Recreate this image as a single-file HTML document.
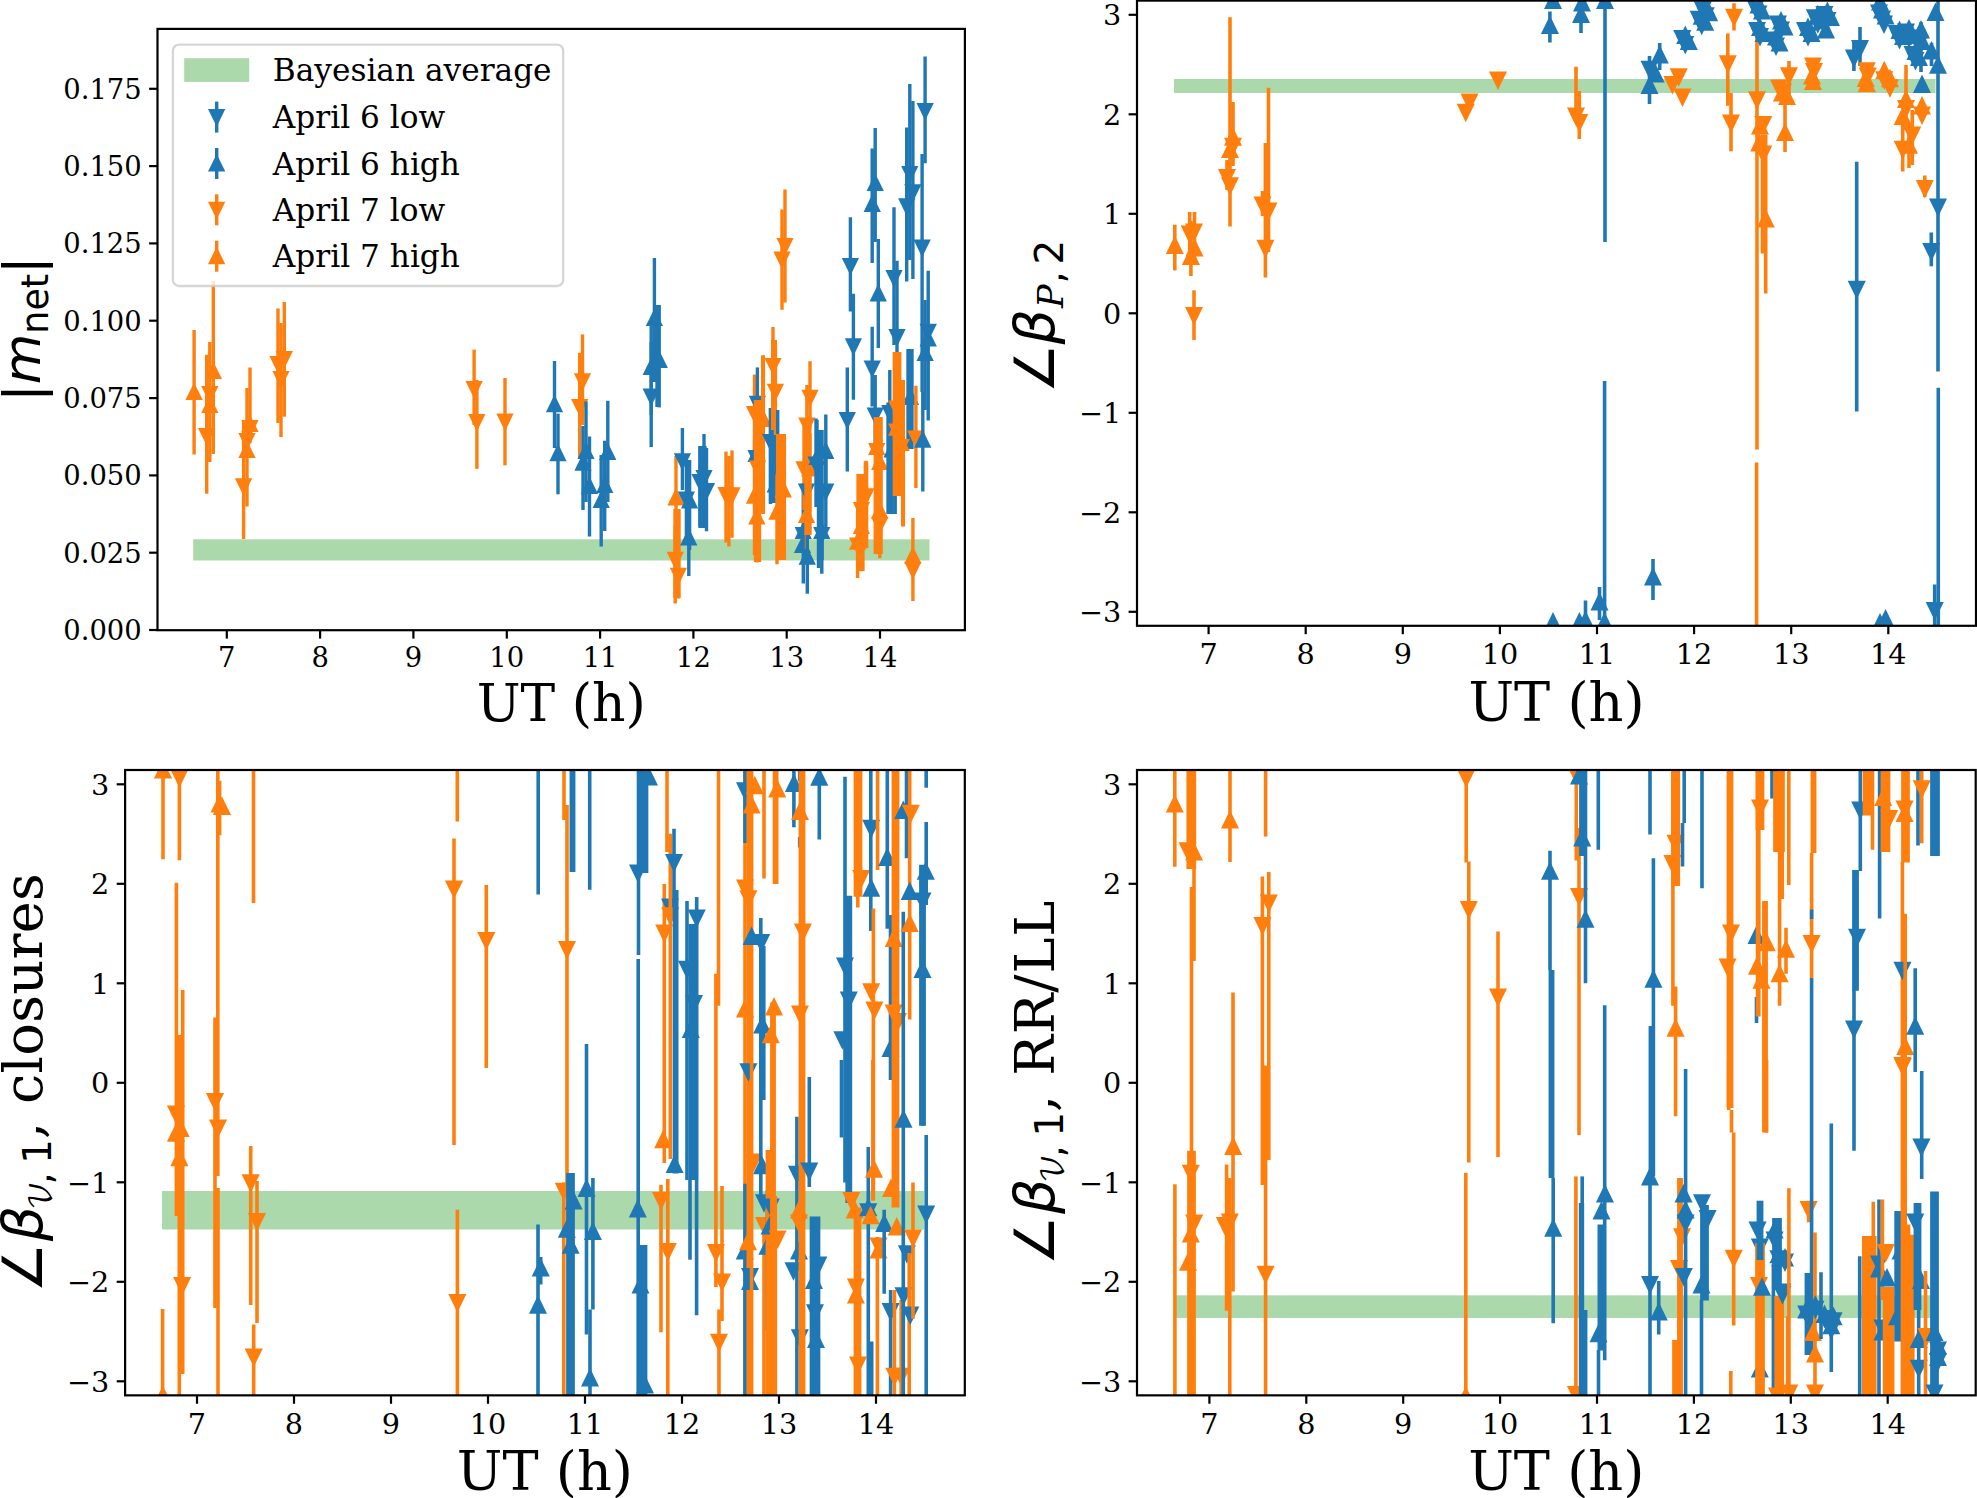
<!DOCTYPE html>
<html><head><meta charset="utf-8"><title>figure</title><style>html,body{margin:0;padding:0;background:#fff}svg{display:block}</style></head><body>
<svg width="1977" height="1498" viewBox="0 0 1977 1498">
<rect width="1977" height="1498" fill="#fff"/>
<clipPath id="c1"><rect x="157.5" y="28.9" width="807.4" height="601.3000000000001"/></clipPath>
<g clip-path="url(#c1)">
<rect x="193.2" y="539.3" width="736.3" height="21.200000000000045" fill="#abd9ab"/>
<line x1="194.1" y1="330.0" x2="194.1" y2="454.5" stroke="#ff7f0e" stroke-width="3.4"/>
<polygon points="194.1,382.4 185.4,400.1 202.8,400.1" fill="#ff7f0e"/>
<line x1="206.7" y1="354.8" x2="206.7" y2="493.8" stroke="#ff7f0e" stroke-width="3.4"/>
<polygon points="206.7,445.6 198.0,427.9 215.3,427.9" fill="#ff7f0e"/>
<line x1="209.8" y1="342.0" x2="209.8" y2="462.0" stroke="#ff7f0e" stroke-width="3.4"/>
<polygon points="209.8,403.6 201.2,385.9 218.5,385.9" fill="#ff7f0e"/>
<polygon points="209.8,395.4 201.2,413.1 218.5,413.1" fill="#ff7f0e"/>
<line x1="213.3" y1="281.0" x2="213.3" y2="454.0" stroke="#ff7f0e" stroke-width="3.4"/>
<polygon points="213.3,361.4 204.7,379.1 222.0,379.1" fill="#ff7f0e"/>
<line x1="243.6" y1="420.0" x2="243.6" y2="539.0" stroke="#ff7f0e" stroke-width="3.4"/>
<polygon points="243.6,496.0 234.9,478.3 252.2,478.3" fill="#ff7f0e"/>
<line x1="247.0" y1="388.0" x2="247.0" y2="506.6" stroke="#ff7f0e" stroke-width="3.4"/>
<polygon points="247.0,450.6 238.3,432.9 255.7,432.9" fill="#ff7f0e"/>
<polygon points="247.0,440.4 238.3,458.1 255.7,458.1" fill="#ff7f0e"/>
<line x1="250.0" y1="367.6" x2="250.0" y2="443.0" stroke="#ff7f0e" stroke-width="3.4"/>
<polygon points="250.0,414.4 241.3,432.1 258.6,432.1" fill="#ff7f0e"/>
<polygon points="250.0,437.6 241.3,419.9 258.6,419.9" fill="#ff7f0e"/>
<line x1="278.0" y1="308.5" x2="278.0" y2="423.0" stroke="#ff7f0e" stroke-width="3.4"/>
<polygon points="278.0,373.6 269.4,355.9 286.6,355.9" fill="#ff7f0e"/>
<line x1="281.0" y1="323.0" x2="281.0" y2="437.0" stroke="#ff7f0e" stroke-width="3.4"/>
<polygon points="281.0,388.6 272.4,370.9 289.6,370.9" fill="#ff7f0e"/>
<line x1="284.3" y1="302.0" x2="284.3" y2="416.7" stroke="#ff7f0e" stroke-width="3.4"/>
<polygon points="284.3,368.6 275.7,350.9 292.9,350.9" fill="#ff7f0e"/>
<line x1="474.1" y1="349.6" x2="474.1" y2="425.0" stroke="#ff7f0e" stroke-width="3.4"/>
<polygon points="474.1,398.6 465.5,380.9 482.8,380.9" fill="#ff7f0e"/>
<line x1="476.9" y1="380.0" x2="476.9" y2="468.8" stroke="#ff7f0e" stroke-width="3.4"/>
<polygon points="476.9,431.6 468.2,413.9 485.5,413.9" fill="#ff7f0e"/>
<line x1="505.0" y1="378.0" x2="505.0" y2="465.3" stroke="#ff7f0e" stroke-width="3.4"/>
<polygon points="505.0,431.3 496.4,413.6 513.6,413.6" fill="#ff7f0e"/>
<line x1="554.5" y1="361.0" x2="554.5" y2="448.0" stroke="#1f77b4" stroke-width="3.4"/>
<polygon points="554.5,394.6 545.9,412.3 563.1,412.3" fill="#1f77b4"/>
<line x1="558.0" y1="413.6" x2="558.0" y2="494.3" stroke="#1f77b4" stroke-width="3.4"/>
<polygon points="558.0,443.6 549.4,461.3 566.6,461.3" fill="#1f77b4"/>
<line x1="579.7" y1="353.0" x2="579.7" y2="457.6" stroke="#ff7f0e" stroke-width="3.4"/>
<polygon points="579.7,416.6 571.1,398.9 588.4,398.9" fill="#ff7f0e"/>
<line x1="582.5" y1="334.4" x2="582.5" y2="425.0" stroke="#ff7f0e" stroke-width="3.4"/>
<polygon points="582.5,390.9 573.9,373.2 591.1,373.2" fill="#ff7f0e"/>
<line x1="583.0" y1="426.0" x2="583.0" y2="510.0" stroke="#1f77b4" stroke-width="3.4"/>
<polygon points="583.0,453.0 574.4,470.7 591.6,470.7" fill="#1f77b4"/>
<line x1="586.0" y1="401.5" x2="586.0" y2="502.0" stroke="#1f77b4" stroke-width="3.4"/>
<polygon points="586.0,441.4 577.4,459.1 594.6,459.1" fill="#1f77b4"/>
<line x1="589.5" y1="436.5" x2="589.5" y2="536.5" stroke="#1f77b4" stroke-width="3.4"/>
<polygon points="589.5,476.4 580.9,494.1 598.1,494.1" fill="#1f77b4"/>
<line x1="601.2" y1="455.0" x2="601.2" y2="546.4" stroke="#1f77b4" stroke-width="3.4"/>
<polygon points="601.2,490.4 592.6,508.1 609.9,508.1" fill="#1f77b4"/>
<line x1="604.7" y1="440.7" x2="604.7" y2="531.0" stroke="#1f77b4" stroke-width="3.4"/>
<polygon points="604.7,475.2 596.1,492.9 613.4,492.9" fill="#1f77b4"/>
<line x1="607.8" y1="400.8" x2="607.8" y2="502.0" stroke="#1f77b4" stroke-width="3.4"/>
<polygon points="607.8,442.4 599.1,460.1 616.4,460.1" fill="#1f77b4"/>
<line x1="651.2" y1="320.0" x2="651.2" y2="415.0" stroke="#1f77b4" stroke-width="3.4"/>
<polygon points="651.2,357.4 642.6,375.1 659.9,375.1" fill="#1f77b4"/>
<line x1="651.2" y1="342.0" x2="651.2" y2="447.0" stroke="#1f77b4" stroke-width="3.4"/>
<polygon points="651.2,406.2 642.6,388.5 659.9,388.5" fill="#1f77b4"/>
<line x1="654.4" y1="258.0" x2="654.4" y2="382.0" stroke="#1f77b4" stroke-width="3.4"/>
<polygon points="654.4,308.4 645.8,326.1 663.0,326.1" fill="#1f77b4"/>
<line x1="657.0" y1="305.0" x2="657.0" y2="407.0" stroke="#1f77b4" stroke-width="3.4"/>
<line x1="659.2" y1="305.0" x2="659.2" y2="407.4" stroke="#1f77b4" stroke-width="3.4"/>
<polygon points="659.2,350.2 650.6,367.9 667.9,367.9" fill="#1f77b4"/>
<line x1="675.2" y1="525.0" x2="675.2" y2="603.4" stroke="#ff7f0e" stroke-width="3.4"/>
<polygon points="675.2,569.4 666.6,551.7 683.9,551.7" fill="#ff7f0e"/>
<line x1="676.0" y1="456.0" x2="676.0" y2="542.0" stroke="#ff7f0e" stroke-width="3.4"/>
<polygon points="676.0,487.7 667.4,505.4 684.6,505.4" fill="#ff7f0e"/>
<line x1="677.0" y1="509.0" x2="677.0" y2="598.0" stroke="#ff7f0e" stroke-width="7.351351351351351"/>
<line x1="678.4" y1="509.0" x2="678.4" y2="598.6" stroke="#ff7f0e" stroke-width="3.4"/>
<polygon points="678.4,585.4 669.8,567.7 687.0,567.7" fill="#ff7f0e"/>
<line x1="682.4" y1="428.0" x2="682.4" y2="490.0" stroke="#1f77b4" stroke-width="3.4"/>
<polygon points="682.4,470.9 673.8,453.2 691.0,453.2" fill="#1f77b4"/>
<line x1="686.4" y1="455.0" x2="686.4" y2="545.0" stroke="#1f77b4" stroke-width="3.4"/>
<polygon points="686.4,509.3 677.8,491.6 695.0,491.6" fill="#1f77b4"/>
<line x1="688.8" y1="512.0" x2="688.8" y2="576.0" stroke="#1f77b4" stroke-width="3.4"/>
<polygon points="688.8,527.7 680.1,545.4 697.4,545.4" fill="#1f77b4"/>
<line x1="689.6" y1="460.0" x2="689.6" y2="550.0" stroke="#1f77b4" stroke-width="3.4"/>
<polygon points="689.6,490.9 681.0,508.6 698.2,508.6" fill="#1f77b4"/>
<line x1="700.0" y1="446.4" x2="700.0" y2="526.5" stroke="#1f77b4" stroke-width="3.4"/>
<polygon points="700.0,491.6 691.4,473.9 708.6,473.9" fill="#1f77b4"/>
<line x1="702.5" y1="446.0" x2="702.5" y2="528.0" stroke="#1f77b4" stroke-width="8.27027027027027"/>
<line x1="704.0" y1="434.0" x2="704.0" y2="512.0" stroke="#1f77b4" stroke-width="3.4"/>
<polygon points="704.0,487.6 695.4,469.9 712.6,469.9" fill="#1f77b4"/>
<line x1="706.5" y1="448.0" x2="706.5" y2="531.3" stroke="#1f77b4" stroke-width="3.4"/>
<polygon points="706.5,500.6 697.9,482.9 715.1,482.9" fill="#1f77b4"/>
<line x1="726.0" y1="451.6" x2="726.0" y2="542.5" stroke="#ff7f0e" stroke-width="3.4"/>
<polygon points="726.0,504.6 717.4,486.9 734.6,486.9" fill="#ff7f0e"/>
<line x1="728.9" y1="456.0" x2="728.9" y2="546.5" stroke="#ff7f0e" stroke-width="3.4"/>
<polygon points="728.9,506.1 720.2,488.4 737.5,488.4" fill="#ff7f0e"/>
<line x1="732.0" y1="450.4" x2="732.0" y2="537.7" stroke="#ff7f0e" stroke-width="3.4"/>
<polygon points="732.0,505.0 723.4,487.3 740.6,487.3" fill="#ff7f0e"/>
<line x1="754.5" y1="374.6" x2="754.5" y2="450.0" stroke="#ff7f0e" stroke-width="3.4"/>
<polygon points="754.5,423.6 745.9,405.9 763.1,405.9" fill="#ff7f0e"/>
<line x1="754.5" y1="440.0" x2="754.5" y2="555.0" stroke="#ff7f0e" stroke-width="3.4"/>
<polygon points="754.5,486.1 745.9,503.8 763.1,503.8" fill="#ff7f0e"/>
<polygon points="755.8,484.9 747.1,502.6 764.4,502.6" fill="#ff7f0e"/>
<line x1="756.0" y1="420.0" x2="756.0" y2="492.0" stroke="#1f77b4" stroke-width="3.4"/>
<polygon points="756.0,444.4 747.4,462.1 764.6,462.1" fill="#1f77b4"/>
<polygon points="756.0,467.6 747.4,449.9 764.6,449.9" fill="#1f77b4"/>
<line x1="756.9" y1="474.0" x2="756.9" y2="562.6" stroke="#ff7f0e" stroke-width="3.4"/>
<polygon points="756.9,506.9 748.2,524.6 765.5,524.6" fill="#ff7f0e"/>
<line x1="757.4" y1="367.4" x2="757.4" y2="436.0" stroke="#1f77b4" stroke-width="3.4"/>
<polygon points="757.4,413.4 748.8,395.7 766.0,395.7" fill="#1f77b4"/>
<line x1="757.5" y1="400.0" x2="757.5" y2="562.0" stroke="#ff7f0e" stroke-width="7.351351351351351"/>
<polygon points="757.6,478.1 749.0,460.4 766.2,460.4" fill="#ff7f0e"/>
<line x1="763.0" y1="355.6" x2="763.0" y2="514.0" stroke="#ff7f0e" stroke-width="4.135135135135135"/>
<line x1="763.3" y1="355.4" x2="763.3" y2="486.0" stroke="#ff7f0e" stroke-width="3.4"/>
<polygon points="763.3,409.2 754.6,426.9 771.9,426.9" fill="#ff7f0e"/>
<line x1="770.5" y1="408.0" x2="770.5" y2="504.0" stroke="#1f77b4" stroke-width="3.4"/>
<polygon points="770.5,451.6 761.9,433.9 779.1,433.9" fill="#1f77b4"/>
<line x1="772.5" y1="408.0" x2="772.5" y2="503.0" stroke="#1f77b4" stroke-width="7.351351351351351"/>
<line x1="773.0" y1="327.0" x2="773.0" y2="420.0" stroke="#ff7f0e" stroke-width="3.4"/>
<polygon points="773.0,375.6 764.4,357.9 781.6,357.9" fill="#ff7f0e"/>
<line x1="774.0" y1="340.0" x2="774.0" y2="430.0" stroke="#ff7f0e" stroke-width="5.972972972972972"/>
<polygon points="775.3,474.9 766.6,492.6 783.9,492.6" fill="#1f77b4"/>
<line x1="775.4" y1="345.0" x2="775.4" y2="435.0" stroke="#ff7f0e" stroke-width="3.4"/>
<polygon points="775.4,401.4 766.8,383.7 784.0,383.7" fill="#ff7f0e"/>
<line x1="777.0" y1="463.0" x2="777.0" y2="564.2" stroke="#ff7f0e" stroke-width="3.4"/>
<polygon points="777.0,502.1 768.4,519.8 785.6,519.8" fill="#ff7f0e"/>
<line x1="777.7" y1="410.0" x2="777.7" y2="504.0" stroke="#1f77b4" stroke-width="3.4"/>
<polygon points="777.7,455.7 769.1,473.4 786.4,473.4" fill="#1f77b4"/>
<polygon points="777.7,478.9 769.1,461.2 786.4,461.2" fill="#1f77b4"/>
<line x1="781.0" y1="434.4" x2="781.0" y2="560.0" stroke="#ff7f0e" stroke-width="3.4"/>
<line x1="781.0" y1="434.0" x2="781.0" y2="560.0" stroke="#ff7f0e" stroke-width="10.108108108108107"/>
<line x1="782.0" y1="209.6" x2="782.0" y2="309.7" stroke="#ff7f0e" stroke-width="3.4"/>
<polygon points="782.0,269.3 773.4,251.6 790.6,251.6" fill="#ff7f0e"/>
<line x1="783.3" y1="434.4" x2="783.3" y2="550.5" stroke="#ff7f0e" stroke-width="3.4"/>
<polygon points="783.3,479.7 774.6,497.4 791.9,497.4" fill="#ff7f0e"/>
<line x1="785.0" y1="189.6" x2="785.0" y2="302.5" stroke="#ff7f0e" stroke-width="3.4"/>
<polygon points="785.0,255.6 776.4,237.9 793.6,237.9" fill="#ff7f0e"/>
<polygon points="802.5,535.4 793.9,553.1 811.1,553.1" fill="#1f77b4"/>
<line x1="803.3" y1="483.0" x2="803.3" y2="583.4" stroke="#1f77b4" stroke-width="3.4"/>
<polygon points="803.3,521.4 794.6,539.1 811.9,539.1" fill="#1f77b4"/>
<polygon points="803.3,544.6 794.6,526.9 811.9,526.9" fill="#1f77b4"/>
<line x1="804.0" y1="425.0" x2="804.0" y2="510.0" stroke="#ff7f0e" stroke-width="3.4"/>
<polygon points="804.0,478.9 795.4,461.2 812.6,461.2" fill="#ff7f0e"/>
<line x1="806.5" y1="480.0" x2="806.5" y2="549.0" stroke="#ff7f0e" stroke-width="3.4"/>
<polygon points="806.5,505.4 797.9,523.1 815.1,523.1" fill="#ff7f0e"/>
<line x1="806.5" y1="450.0" x2="806.5" y2="530.0" stroke="#1f77b4" stroke-width="3.4"/>
<polygon points="806.5,501.3 797.9,483.6 815.1,483.6" fill="#1f77b4"/>
<line x1="806.9" y1="385.0" x2="806.9" y2="462.0" stroke="#ff7f0e" stroke-width="3.4"/>
<polygon points="806.9,435.1 798.2,417.4 815.5,417.4" fill="#ff7f0e"/>
<line x1="807.3" y1="523.0" x2="807.3" y2="593.8" stroke="#1f77b4" stroke-width="3.4"/>
<polygon points="807.3,547.0 798.6,564.7 815.9,564.7" fill="#1f77b4"/>
<line x1="808.0" y1="433.0" x2="808.0" y2="535.0" stroke="#ff7f0e" stroke-width="7.351351351351351"/>
<line x1="809.7" y1="430.0" x2="809.7" y2="512.0" stroke="#ff7f0e" stroke-width="3.4"/>
<polygon points="809.7,458.9 801.1,476.6 818.4,476.6" fill="#ff7f0e"/>
<line x1="810.0" y1="361.3" x2="810.0" y2="430.0" stroke="#ff7f0e" stroke-width="3.4"/>
<polygon points="810.0,407.4 801.4,389.7 818.6,389.7" fill="#ff7f0e"/>
<line x1="816.0" y1="418.4" x2="816.0" y2="507.0" stroke="#1f77b4" stroke-width="3.4"/>
<polygon points="816.0,474.1 807.4,456.4 824.6,456.4" fill="#1f77b4"/>
<line x1="817.0" y1="420.0" x2="817.0" y2="498.0" stroke="#1f77b4" stroke-width="3.4"/>
<polygon points="817.0,447.4 808.4,465.1 825.6,465.1" fill="#1f77b4"/>
<line x1="818.5" y1="430.0" x2="818.5" y2="568.0" stroke="#1f77b4" stroke-width="3.4"/>
<line x1="821.0" y1="430.0" x2="821.0" y2="560.0" stroke="#1f77b4" stroke-width="5.513513513513513"/>
<line x1="821.8" y1="492.0" x2="821.8" y2="573.8" stroke="#1f77b4" stroke-width="3.4"/>
<polygon points="821.8,521.4 813.1,539.1 830.4,539.1" fill="#1f77b4"/>
<polygon points="821.8,544.6 813.1,526.9 830.4,526.9" fill="#1f77b4"/>
<line x1="825.8" y1="414.6" x2="825.8" y2="490.0" stroke="#1f77b4" stroke-width="3.4"/>
<polygon points="825.8,441.3 817.1,459.0 834.4,459.0" fill="#1f77b4"/>
<line x1="825.8" y1="452.0" x2="825.8" y2="528.0" stroke="#1f77b4" stroke-width="3.4"/>
<polygon points="825.8,501.3 817.1,483.6 834.4,483.6" fill="#1f77b4"/>
<line x1="847.3" y1="367.4" x2="847.3" y2="471.4" stroke="#1f77b4" stroke-width="3.4"/>
<polygon points="847.3,429.6 838.6,411.9 855.9,411.9" fill="#1f77b4"/>
<line x1="850.4" y1="217.3" x2="850.4" y2="311.4" stroke="#1f77b4" stroke-width="3.4"/>
<polygon points="850.4,275.6 841.8,257.9 859.0,257.9" fill="#1f77b4"/>
<line x1="853.4" y1="293.7" x2="853.4" y2="399.7" stroke="#1f77b4" stroke-width="3.4"/>
<polygon points="853.4,356.0 844.8,338.3 862.0,338.3" fill="#1f77b4"/>
<line x1="857.6" y1="503.7" x2="857.6" y2="578.0" stroke="#ff7f0e" stroke-width="3.4"/>
<polygon points="857.6,532.0 849.0,549.7 866.2,549.7" fill="#ff7f0e"/>
<polygon points="857.6,555.2 849.0,537.5 866.2,537.5" fill="#ff7f0e"/>
<line x1="861.4" y1="474.5" x2="861.4" y2="571.2" stroke="#ff7f0e" stroke-width="3.4"/>
<polygon points="861.4,519.6 852.8,501.9 870.0,501.9" fill="#ff7f0e"/>
<polygon points="861.4,516.4 852.8,534.1 870.0,534.1" fill="#ff7f0e"/>
<line x1="866.0" y1="460.7" x2="866.0" y2="548.2" stroke="#ff7f0e" stroke-width="3.4"/>
<polygon points="866.0,506.0 857.4,488.3 874.6,488.3" fill="#ff7f0e"/>
<line x1="872.2" y1="148.5" x2="872.2" y2="263.0" stroke="#1f77b4" stroke-width="3.4"/>
<polygon points="872.2,194.2 863.6,211.9 880.9,211.9" fill="#1f77b4"/>
<line x1="872.2" y1="326.7" x2="872.2" y2="406.5" stroke="#1f77b4" stroke-width="3.4"/>
<polygon points="872.2,378.2 863.6,360.5 880.9,360.5" fill="#1f77b4"/>
<line x1="875.2" y1="128.0" x2="875.2" y2="242.0" stroke="#1f77b4" stroke-width="3.4"/>
<polygon points="875.2,173.4 866.6,191.1 883.9,191.1" fill="#1f77b4"/>
<line x1="875.2" y1="375.0" x2="875.2" y2="452.0" stroke="#1f77b4" stroke-width="3.4"/>
<polygon points="875.2,425.1 866.6,407.4 883.9,407.4" fill="#1f77b4"/>
<line x1="876.8" y1="417.0" x2="876.8" y2="554.3" stroke="#ff7f0e" stroke-width="3.4"/>
<polygon points="876.8,437.4 868.1,455.1 885.4,455.1" fill="#ff7f0e"/>
<polygon points="876.8,460.6 868.1,442.9 885.4,442.9" fill="#ff7f0e"/>
<line x1="878.3" y1="239.0" x2="878.3" y2="348.0" stroke="#1f77b4" stroke-width="3.4"/>
<polygon points="878.3,283.7 869.6,301.4 886.9,301.4" fill="#1f77b4"/>
<polygon points="879.8,452.4 871.1,470.1 888.4,470.1" fill="#ff7f0e"/>
<line x1="879.8" y1="470.0" x2="879.8" y2="558.2" stroke="#ff7f0e" stroke-width="3.4"/>
<polygon points="879.8,500.8 871.1,518.5 888.4,518.5" fill="#ff7f0e"/>
<polygon points="879.8,534.6 871.1,516.9 888.4,516.9" fill="#ff7f0e"/>
<line x1="889.8" y1="370.0" x2="889.8" y2="452.0" stroke="#1f77b4" stroke-width="3.4"/>
<polygon points="889.8,422.6 881.1,404.9 898.4,404.9" fill="#1f77b4"/>
<line x1="890.0" y1="402.5" x2="890.0" y2="514.0" stroke="#1f77b4" stroke-width="7.351351351351351"/>
<line x1="892.0" y1="410.0" x2="892.0" y2="514.0" stroke="#1f77b4" stroke-width="3.4"/>
<polygon points="892.0,439.9 883.4,457.6 900.6,457.6" fill="#1f77b4"/>
<line x1="894.0" y1="207.3" x2="894.0" y2="345.0" stroke="#1f77b4" stroke-width="3.4"/>
<polygon points="894.0,287.6 885.4,269.9 902.6,269.9" fill="#1f77b4"/>
<line x1="895.2" y1="420.0" x2="895.2" y2="514.0" stroke="#1f77b4" stroke-width="3.4"/>
<polygon points="895.2,456.4 886.6,474.1 903.9,474.1" fill="#1f77b4"/>
<line x1="897.0" y1="260.7" x2="897.0" y2="410.0" stroke="#1f77b4" stroke-width="3.4"/>
<polygon points="897.0,346.8 888.4,329.1 905.6,329.1" fill="#1f77b4"/>
<line x1="906.7" y1="127.5" x2="906.7" y2="281.4" stroke="#1f77b4" stroke-width="3.4"/>
<polygon points="906.7,215.9 898.1,198.2 915.4,198.2" fill="#1f77b4"/>
<line x1="909.8" y1="84.0" x2="909.8" y2="260.0" stroke="#1f77b4" stroke-width="3.4"/>
<polygon points="909.8,183.6 901.1,165.9 918.4,165.9" fill="#1f77b4"/>
<line x1="910.0" y1="349.0" x2="910.0" y2="449.0" stroke="#1f77b4" stroke-width="7.351351351351351"/>
<line x1="910.5" y1="349.0" x2="910.5" y2="449.0" stroke="#1f77b4" stroke-width="3.4"/>
<polygon points="910.5,387.4 901.9,405.1 919.1,405.1" fill="#1f77b4"/>
<line x1="912.9" y1="101.0" x2="912.9" y2="279.0" stroke="#1f77b4" stroke-width="3.4"/>
<polygon points="912.9,202.0 904.2,184.3 921.5,184.3" fill="#1f77b4"/>
<line x1="912.9" y1="518.0" x2="912.9" y2="601.0" stroke="#ff7f0e" stroke-width="3.4"/>
<polygon points="912.9,546.0 904.2,563.7 921.5,563.7" fill="#ff7f0e"/>
<polygon points="912.9,579.5 904.2,561.8 921.5,561.8" fill="#ff7f0e"/>
<line x1="915.9" y1="385.8" x2="915.9" y2="488.0" stroke="#ff7f0e" stroke-width="3.4"/>
<polygon points="915.9,448.3 907.2,430.6 924.5,430.6" fill="#ff7f0e"/>
<line x1="922.1" y1="154.0" x2="922.1" y2="337.0" stroke="#1f77b4" stroke-width="3.4"/>
<polygon points="922.1,257.3 913.5,239.6 930.8,239.6" fill="#1f77b4"/>
<line x1="922.1" y1="337.0" x2="922.1" y2="392.0" stroke="#1f77b4" stroke-width="3.4"/>
<line x1="922.8" y1="392.0" x2="922.8" y2="491.4" stroke="#1f77b4" stroke-width="3.4"/>
<polygon points="922.8,430.1 914.1,447.8 931.4,447.8" fill="#1f77b4"/>
<line x1="925.1" y1="56.4" x2="925.1" y2="163.3" stroke="#1f77b4" stroke-width="3.4"/>
<polygon points="925.1,120.6 916.5,102.9 933.8,102.9" fill="#1f77b4"/>
<line x1="925.1" y1="300.0" x2="925.1" y2="410.0" stroke="#1f77b4" stroke-width="3.4"/>
<polygon points="925.1,343.4 916.5,361.1 933.8,361.1" fill="#1f77b4"/>
<line x1="928.2" y1="270.7" x2="928.2" y2="420.4" stroke="#1f77b4" stroke-width="3.4"/>
<polygon points="928.2,341.4 919.6,323.7 936.9,323.7" fill="#1f77b4"/>
<polygon points="928.2,328.9 919.6,346.6 936.9,346.6" fill="#1f77b4"/>
<line x1="860.5" y1="474.0" x2="860.5" y2="571.0" stroke="#ff7f0e" stroke-width="8.27027027027027"/>
<line x1="866.0" y1="461.5" x2="866.0" y2="548.0" stroke="#ff7f0e" stroke-width="4.594594594594595"/>
<line x1="878.2" y1="417.0" x2="878.2" y2="554.0" stroke="#ff7f0e" stroke-width="9.18918918918919"/>
<line x1="896.7" y1="352.0" x2="896.7" y2="461.0" stroke="#ff7f0e" stroke-width="3.4"/>
<polygon points="896.7,418.2 888.1,400.5 905.4,400.5" fill="#ff7f0e"/>
<line x1="896.7" y1="380.0" x2="896.7" y2="480.0" stroke="#ff7f0e" stroke-width="3.4"/>
<polygon points="896.7,418.0 888.1,435.7 905.4,435.7" fill="#ff7f0e"/>
<polygon points="896.7,441.2 888.1,423.5 905.4,423.5" fill="#ff7f0e"/>
<line x1="897.0" y1="352.0" x2="897.0" y2="496.0" stroke="#ff7f0e" stroke-width="8.729729729729728"/>
<line x1="901.3" y1="395.0" x2="901.3" y2="495.0" stroke="#ff7f0e" stroke-width="3.4"/>
<polygon points="901.3,433.4 892.6,451.1 909.9,451.1" fill="#ff7f0e"/>
<polygon points="901.3,456.6 892.6,438.9 909.9,438.9" fill="#ff7f0e"/>
<line x1="903.0" y1="400.0" x2="903.0" y2="526.0" stroke="#ff7f0e" stroke-width="3.4"/>
<line x1="903.0" y1="380.0" x2="903.0" y2="526.6" stroke="#ff7f0e" stroke-width="4.135135135135135"/>
</g>
<rect x="157.5" y="28.9" width="807.4" height="601.3000000000001" fill="none" stroke="#000" stroke-width="2.2"/>
<line x1="226.8" y1="630.2" x2="226.8" y2="638.6" stroke="#000" stroke-width="2.2"/>
<text x="226.8" y="667.4" font-size="27.4" text-anchor="middle" font-family='"DejaVu Serif", "Liberation Serif", serif'>7</text>
<line x1="320.1" y1="630.2" x2="320.1" y2="638.6" stroke="#000" stroke-width="2.2"/>
<text x="320.1" y="667.4" font-size="27.4" text-anchor="middle" font-family='"DejaVu Serif", "Liberation Serif", serif'>8</text>
<line x1="413.4" y1="630.2" x2="413.4" y2="638.6" stroke="#000" stroke-width="2.2"/>
<text x="413.4" y="667.4" font-size="27.4" text-anchor="middle" font-family='"DejaVu Serif", "Liberation Serif", serif'>9</text>
<line x1="506.8" y1="630.2" x2="506.8" y2="638.6" stroke="#000" stroke-width="2.2"/>
<text x="506.8" y="667.4" font-size="27.4" text-anchor="middle" font-family='"DejaVu Serif", "Liberation Serif", serif'>10</text>
<line x1="600.1" y1="630.2" x2="600.1" y2="638.6" stroke="#000" stroke-width="2.2"/>
<text x="600.1" y="667.4" font-size="27.4" text-anchor="middle" font-family='"DejaVu Serif", "Liberation Serif", serif'>11</text>
<line x1="693.4" y1="630.2" x2="693.4" y2="638.6" stroke="#000" stroke-width="2.2"/>
<text x="693.4" y="667.4" font-size="27.4" text-anchor="middle" font-family='"DejaVu Serif", "Liberation Serif", serif'>12</text>
<line x1="786.7" y1="630.2" x2="786.7" y2="638.6" stroke="#000" stroke-width="2.2"/>
<text x="786.7" y="667.4" font-size="27.4" text-anchor="middle" font-family='"DejaVu Serif", "Liberation Serif", serif'>13</text>
<line x1="880.0" y1="630.2" x2="880.0" y2="638.6" stroke="#000" stroke-width="2.2"/>
<text x="880.0" y="667.4" font-size="27.4" text-anchor="middle" font-family='"DejaVu Serif", "Liberation Serif", serif'>14</text>
<line x1="149.1" y1="630.0" x2="157.5" y2="630.0" stroke="#000" stroke-width="2.2"/>
<text x="141.7" y="640.0" font-size="27.4" text-anchor="end" font-family='"DejaVu Serif", "Liberation Serif", serif'>0.000</text>
<line x1="149.1" y1="552.7" x2="157.5" y2="552.7" stroke="#000" stroke-width="2.2"/>
<text x="141.7" y="562.7" font-size="27.4" text-anchor="end" font-family='"DejaVu Serif", "Liberation Serif", serif'>0.025</text>
<line x1="149.1" y1="475.4" x2="157.5" y2="475.4" stroke="#000" stroke-width="2.2"/>
<text x="141.7" y="485.4" font-size="27.4" text-anchor="end" font-family='"DejaVu Serif", "Liberation Serif", serif'>0.050</text>
<line x1="149.1" y1="398.1" x2="157.5" y2="398.1" stroke="#000" stroke-width="2.2"/>
<text x="141.7" y="408.1" font-size="27.4" text-anchor="end" font-family='"DejaVu Serif", "Liberation Serif", serif'>0.075</text>
<line x1="149.1" y1="320.7" x2="157.5" y2="320.7" stroke="#000" stroke-width="2.2"/>
<text x="141.7" y="330.7" font-size="27.4" text-anchor="end" font-family='"DejaVu Serif", "Liberation Serif", serif'>0.100</text>
<line x1="149.1" y1="243.4" x2="157.5" y2="243.4" stroke="#000" stroke-width="2.2"/>
<text x="141.7" y="253.4" font-size="27.4" text-anchor="end" font-family='"DejaVu Serif", "Liberation Serif", serif'>0.125</text>
<line x1="149.1" y1="166.1" x2="157.5" y2="166.1" stroke="#000" stroke-width="2.2"/>
<text x="141.7" y="176.1" font-size="27.4" text-anchor="end" font-family='"DejaVu Serif", "Liberation Serif", serif'>0.150</text>
<line x1="149.1" y1="88.8" x2="157.5" y2="88.8" stroke="#000" stroke-width="2.2"/>
<text x="141.7" y="98.8" font-size="27.4" text-anchor="end" font-family='"DejaVu Serif", "Liberation Serif", serif'>0.175</text>
<text x="561.2" y="721.4" font-size="52.0" text-anchor="middle" font-family='"DejaVu Serif", "Liberation Serif", serif'>UT (h)</text>
<text transform="translate(39.9,329.1) rotate(-90)" font-size="52.0" text-anchor="middle" font-family='"DejaVu Sans", "Liberation Sans", sans-serif'>|<tspan font-style="oblique">m</tspan><tspan font-size="36.4" dy="8.5">net</tspan><tspan dy="-8.5">|</tspan></text>
<rect x="172.9" y="44.6" width="390.3" height="241.4" rx="6.2" ry="6.2" fill="#fff" fill-opacity="0.8" stroke="#ccc" stroke-opacity="0.8" stroke-width="2.3"/>
<rect x="184.2" y="58.2" width="65.0" height="23.7" fill="#abd9ab"/>
<text x="272.8" y="81.0" font-size="31.2" font-family='"DejaVu Serif", "Liberation Serif", serif'>Bayesian average</text>
<text x="272.8" y="128.2" font-size="31.2" font-family='"DejaVu Serif", "Liberation Serif", serif'>April 6 low</text>
<line x1="216.7" y1="101.6" x2="216.7" y2="132.6" stroke="#1f77b4" stroke-width="3.4"/>
<polygon points="216.7,126.7 208.0,109.0 225.3,109.0" fill="#1f77b4"/>
<text x="272.8" y="174.6" font-size="31.2" font-family='"DejaVu Serif", "Liberation Serif", serif'>April 6 high</text>
<line x1="216.7" y1="148.0" x2="216.7" y2="179.0" stroke="#1f77b4" stroke-width="3.4"/>
<polygon points="216.7,153.9 208.0,171.6 225.3,171.6" fill="#1f77b4"/>
<text x="272.8" y="220.9" font-size="31.2" font-family='"DejaVu Serif", "Liberation Serif", serif'>April 7 low</text>
<line x1="216.7" y1="194.3" x2="216.7" y2="225.3" stroke="#ff7f0e" stroke-width="3.4"/>
<polygon points="216.7,219.4 208.0,201.7 225.3,201.7" fill="#ff7f0e"/>
<text x="272.8" y="267.3" font-size="31.2" font-family='"DejaVu Serif", "Liberation Serif", serif'>April 7 high</text>
<line x1="216.7" y1="240.7" x2="216.7" y2="271.7" stroke="#ff7f0e" stroke-width="3.4"/>
<polygon points="216.7,246.6 208.0,264.3 225.3,264.3" fill="#ff7f0e"/>
<clipPath id="c2"><rect x="1137" y="0.6" width="839" height="625.1999999999999"/></clipPath>
<g clip-path="url(#c2)">
<rect x="1174" y="79" width="761.5" height="14" fill="#abd9ab"/>
<line x1="1174.8" y1="224.7" x2="1174.8" y2="270.4" stroke="#ff7f0e" stroke-width="3.6"/>
<polygon points="1174.8,235.5 1165.8,254.0 1183.8,254.0" fill="#ff7f0e"/>
<line x1="1189.7" y1="212.0" x2="1189.7" y2="264.0" stroke="#ff7f0e" stroke-width="3.6"/>
<polygon points="1189.7,244.0 1180.7,225.5 1198.8,225.5" fill="#ff7f0e"/>
<line x1="1190.9" y1="221.0" x2="1190.9" y2="276.0" stroke="#ff7f0e" stroke-width="3.6"/>
<polygon points="1190.9,246.4 1181.9,264.9 1200.0,264.9" fill="#ff7f0e"/>
<polygon points="1194.0,242.0 1185.0,223.5 1203.0,223.5" fill="#ff7f0e"/>
<line x1="1194.0" y1="290.3" x2="1194.0" y2="340.0" stroke="#ff7f0e" stroke-width="3.6"/>
<polygon points="1194.0,325.6 1185.0,307.1 1203.0,307.1" fill="#ff7f0e"/>
<line x1="1194.5" y1="212.0" x2="1194.5" y2="264.0" stroke="#ff7f0e" stroke-width="3.6"/>
<polygon points="1194.5,238.0 1185.5,256.5 1203.5,256.5" fill="#ff7f0e"/>
<line x1="1227.0" y1="160.0" x2="1227.0" y2="190.0" stroke="#ff7f0e" stroke-width="3.6"/>
<polygon points="1227.0,187.4 1218.0,168.9 1236.0,168.9" fill="#ff7f0e"/>
<polygon points="1230.0,139.4 1221.0,157.9 1239.0,157.9" fill="#ff7f0e"/>
<line x1="1230.0" y1="17.3" x2="1230.0" y2="226.4" stroke="#ff7f0e" stroke-width="3.6"/>
<polygon points="1230.0,195.8 1221.0,177.3 1239.0,177.3" fill="#ff7f0e"/>
<line x1="1233.0" y1="102.0" x2="1233.0" y2="166.0" stroke="#ff7f0e" stroke-width="3.6"/>
<polygon points="1233.0,127.3 1224.0,145.8 1242.0,145.8" fill="#ff7f0e"/>
<polygon points="1233.0,156.3 1224.0,137.8 1242.0,137.8" fill="#ff7f0e"/>
<line x1="1262.5" y1="191.0" x2="1262.5" y2="216.0" stroke="#ff7f0e" stroke-width="3.6"/>
<polygon points="1262.5,215.0 1253.5,196.5 1271.5,196.5" fill="#ff7f0e"/>
<line x1="1265.4" y1="143.0" x2="1265.4" y2="277.6" stroke="#ff7f0e" stroke-width="3.6"/>
<polygon points="1265.4,258.3 1256.4,239.8 1274.5,239.8" fill="#ff7f0e"/>
<line x1="1268.5" y1="87.7" x2="1268.5" y2="252.0" stroke="#ff7f0e" stroke-width="3.6"/>
<polygon points="1268.5,221.0 1259.5,202.5 1277.5,202.5" fill="#ff7f0e"/>
<polygon points="1465.7,122.3 1456.7,103.8 1474.8,103.8" fill="#ff7f0e"/>
<polygon points="1469.5,112.0 1460.5,93.5 1478.5,93.5" fill="#ff7f0e"/>
<polygon points="1498.0,90.0 1489.0,71.5 1507.0,71.5" fill="#ff7f0e"/>
<line x1="1549.9" y1="11.4" x2="1549.9" y2="42.6" stroke="#1f77b4" stroke-width="3.6"/>
<polygon points="1549.9,15.4 1540.9,33.9 1559.0,33.9" fill="#1f77b4"/>
<polygon points="1553.0,-9.5 1544.0,9.0 1562.0,9.0" fill="#1f77b4"/>
<line x1="1553.0" y1="617.0" x2="1553.0" y2="626.0" stroke="#1f77b4" stroke-width="3.6"/>
<polygon points="1553.0,612.0 1544.0,630.5 1562.0,630.5" fill="#1f77b4"/>
<line x1="1576.0" y1="66.7" x2="1576.0" y2="122.0" stroke="#ff7f0e" stroke-width="3.6"/>
<polygon points="1576.0,126.0 1567.0,107.5 1585.0,107.5" fill="#ff7f0e"/>
<line x1="1579.3" y1="91.0" x2="1579.3" y2="139.0" stroke="#ff7f0e" stroke-width="3.6"/>
<polygon points="1579.3,132.5 1570.2,114.0 1588.3,114.0" fill="#ff7f0e"/>
<line x1="1579.4" y1="617.0" x2="1579.4" y2="626.0" stroke="#1f77b4" stroke-width="3.6"/>
<polygon points="1579.4,612.0 1570.4,630.5 1588.5,630.5" fill="#1f77b4"/>
<line x1="1581.0" y1="1.0" x2="1581.0" y2="33.0" stroke="#1f77b4" stroke-width="3.6"/>
<polygon points="1581.0,4.5 1572.0,23.0 1590.0,23.0" fill="#1f77b4"/>
<polygon points="1582.0,-7.0 1573.0,11.5 1591.0,11.5" fill="#1f77b4"/>
<line x1="1585.5" y1="600.5" x2="1585.5" y2="626.0" stroke="#1f77b4" stroke-width="3.6"/>
<polygon points="1585.5,610.4 1576.5,628.9 1594.5,628.9" fill="#1f77b4"/>
<line x1="1599.5" y1="587.0" x2="1599.5" y2="620.0" stroke="#1f77b4" stroke-width="3.6"/>
<polygon points="1599.5,592.0 1590.5,610.5 1608.5,610.5" fill="#1f77b4"/>
<line x1="1604.6" y1="381.0" x2="1604.6" y2="626.0" stroke="#1f77b4" stroke-width="3.6"/>
<polygon points="1604.6,612.0 1595.5,630.5 1613.6,630.5" fill="#1f77b4"/>
<line x1="1605.0" y1="1.0" x2="1605.0" y2="242.0" stroke="#1f77b4" stroke-width="3.6"/>
<polygon points="1605.0,-9.5 1596.0,9.0 1614.0,9.0" fill="#1f77b4"/>
<line x1="1649.5" y1="56.0" x2="1649.5" y2="104.0" stroke="#1f77b4" stroke-width="3.6"/>
<polygon points="1649.5,79.3 1640.5,60.8 1658.5,60.8" fill="#1f77b4"/>
<polygon points="1649.5,75.5 1640.5,94.0 1658.5,94.0" fill="#1f77b4"/>
<line x1="1653.0" y1="559.0" x2="1653.0" y2="600.0" stroke="#1f77b4" stroke-width="3.6"/>
<polygon points="1653.0,567.0 1644.0,585.5 1662.0,585.5" fill="#1f77b4"/>
<polygon points="1655.6,64.0 1646.5,82.5 1664.6,82.5" fill="#1f77b4"/>
<line x1="1659.7" y1="43.0" x2="1659.7" y2="70.0" stroke="#1f77b4" stroke-width="3.6"/>
<polygon points="1659.7,45.0 1650.7,63.5 1668.8,63.5" fill="#1f77b4"/>
<polygon points="1672.4,94.4 1663.4,75.9 1681.5,75.9" fill="#ff7f0e"/>
<polygon points="1678.7,86.8 1669.7,68.3 1687.8,68.3" fill="#ff7f0e"/>
<polygon points="1682.3,48.5 1673.2,30.0 1691.3,30.0" fill="#1f77b4"/>
<polygon points="1682.5,107.0 1673.5,88.5 1691.5,88.5" fill="#ff7f0e"/>
<polygon points="1685.3,25.5 1676.2,44.0 1694.3,44.0" fill="#1f77b4"/>
<polygon points="1685.3,54.5 1676.2,36.0 1694.3,36.0" fill="#1f77b4"/>
<polygon points="1688.8,31.5 1679.8,50.0 1697.8,50.0" fill="#1f77b4"/>
<polygon points="1698.7,29.3 1689.7,10.8 1707.8,10.8" fill="#1f77b4"/>
<polygon points="1701.7,6.3 1692.7,24.8 1710.8,24.8" fill="#1f77b4"/>
<polygon points="1701.7,35.3 1692.7,16.8 1710.8,16.8" fill="#1f77b4"/>
<polygon points="1702.7,19.7 1693.7,1.2 1711.8,1.2" fill="#1f77b4"/>
<polygon points="1705.2,12.3 1696.2,30.8 1714.2,30.8" fill="#1f77b4"/>
<polygon points="1705.7,-3.3 1696.7,15.2 1714.8,15.2" fill="#1f77b4"/>
<polygon points="1705.7,25.7 1696.7,7.2 1714.8,7.2" fill="#1f77b4"/>
<polygon points="1709.2,2.7 1700.2,21.2 1718.2,21.2" fill="#1f77b4"/>
<line x1="1727.8" y1="33.6" x2="1727.8" y2="105.7" stroke="#ff7f0e" stroke-width="3.6"/>
<polygon points="1727.8,73.7 1718.8,55.2 1736.8,55.2" fill="#ff7f0e"/>
<line x1="1731.0" y1="93.0" x2="1731.0" y2="151.3" stroke="#ff7f0e" stroke-width="3.6"/>
<polygon points="1731.0,133.0 1722.0,114.5 1740.0,114.5" fill="#ff7f0e"/>
<line x1="1734.0" y1="3.2" x2="1734.0" y2="30.4" stroke="#ff7f0e" stroke-width="3.6"/>
<polygon points="1734.0,27.2 1725.0,8.7 1743.0,8.7" fill="#ff7f0e"/>
<polygon points="1755.5,18.1 1746.5,-0.4 1764.5,-0.4" fill="#1f77b4"/>
<line x1="1756.6" y1="462.6" x2="1756.6" y2="626.0" stroke="#ff7f0e" stroke-width="3.6"/>
<line x1="1757.0" y1="37.0" x2="1757.0" y2="449.4" stroke="#ff7f0e" stroke-width="3.6"/>
<polygon points="1757.0,109.7 1748.0,91.2 1766.0,91.2" fill="#ff7f0e"/>
<polygon points="1757.0,40.5 1748.0,22.0 1766.0,22.0" fill="#1f77b4"/>
<polygon points="1758.5,-4.9 1749.5,13.6 1767.5,13.6" fill="#1f77b4"/>
<polygon points="1758.5,24.1 1749.5,5.6 1767.5,5.6" fill="#1f77b4"/>
<polygon points="1759.3,133.0 1750.2,151.5 1768.3,151.5" fill="#ff7f0e"/>
<polygon points="1760.0,116.0 1751.0,134.5 1769.0,134.5" fill="#ff7f0e"/>
<polygon points="1760.0,17.5 1751.0,36.0 1769.0,36.0" fill="#1f77b4"/>
<polygon points="1760.0,46.5 1751.0,28.0 1769.0,28.0" fill="#1f77b4"/>
<polygon points="1762.0,1.1 1753.0,19.6 1771.0,19.6" fill="#1f77b4"/>
<line x1="1762.5" y1="134.5" x2="1762.5" y2="253.6" stroke="#ff7f0e" stroke-width="3.6"/>
<polygon points="1763.3,134.5 1754.2,116.0 1772.3,116.0" fill="#ff7f0e"/>
<polygon points="1763.3,164.0 1754.2,145.5 1772.3,145.5" fill="#ff7f0e"/>
<polygon points="1763.5,23.5 1754.5,42.0 1772.5,42.0" fill="#1f77b4"/>
<line x1="1765.7" y1="134.5" x2="1765.7" y2="293.5" stroke="#ff7f0e" stroke-width="3.6"/>
<polygon points="1765.7,209.0 1756.7,227.5 1774.8,227.5" fill="#ff7f0e"/>
<polygon points="1773.0,50.1 1764.0,31.6 1782.0,31.6" fill="#1f77b4"/>
<polygon points="1776.0,27.1 1767.0,45.6 1785.0,45.6" fill="#1f77b4"/>
<polygon points="1776.0,56.1 1767.0,37.6 1785.0,37.6" fill="#1f77b4"/>
<polygon points="1778.0,34.1 1769.0,15.6 1787.0,15.6" fill="#1f77b4"/>
<polygon points="1779.0,98.0 1770.0,79.5 1788.0,79.5" fill="#ff7f0e"/>
<polygon points="1779.5,33.1 1770.5,51.6 1788.5,51.6" fill="#1f77b4"/>
<polygon points="1781.0,11.1 1772.0,29.6 1790.0,29.6" fill="#1f77b4"/>
<polygon points="1781.0,40.1 1772.0,21.6 1790.0,21.6" fill="#1f77b4"/>
<polygon points="1782.0,83.0 1773.0,101.5 1791.0,101.5" fill="#ff7f0e"/>
<polygon points="1783.0,102.0 1774.0,83.5 1792.0,83.5" fill="#ff7f0e"/>
<polygon points="1784.5,17.1 1775.5,35.6 1793.5,35.6" fill="#1f77b4"/>
<line x1="1785.0" y1="102.5" x2="1785.0" y2="152.0" stroke="#ff7f0e" stroke-width="3.6"/>
<polygon points="1785.0,122.5 1776.0,141.0 1794.0,141.0" fill="#ff7f0e"/>
<polygon points="1787.0,86.5 1778.0,105.0 1796.0,105.0" fill="#ff7f0e"/>
<line x1="1789.0" y1="61.0" x2="1789.0" y2="100.0" stroke="#ff7f0e" stroke-width="3.6"/>
<polygon points="1789.0,85.7 1780.0,67.2 1798.0,67.2" fill="#ff7f0e"/>
<polygon points="1805.0,40.5 1796.0,22.0 1814.0,22.0" fill="#1f77b4"/>
<polygon points="1808.0,17.5 1799.0,36.0 1817.0,36.0" fill="#1f77b4"/>
<polygon points="1808.0,46.5 1799.0,28.0 1817.0,28.0" fill="#1f77b4"/>
<polygon points="1811.5,23.5 1802.5,42.0 1820.5,42.0" fill="#1f77b4"/>
<polygon points="1812.0,66.0 1803.0,84.5 1821.0,84.5" fill="#ff7f0e"/>
<polygon points="1813.0,76.0 1804.0,57.5 1822.0,57.5" fill="#ff7f0e"/>
<polygon points="1813.0,71.4 1804.0,89.9 1822.0,89.9" fill="#ff7f0e"/>
<polygon points="1814.0,81.5 1805.0,63.0 1823.0,63.0" fill="#ff7f0e"/>
<polygon points="1814.8,27.7 1805.8,9.2 1823.8,9.2" fill="#1f77b4"/>
<polygon points="1817.8,4.7 1808.8,23.2 1826.8,23.2" fill="#1f77b4"/>
<polygon points="1817.8,33.7 1808.8,15.2 1826.8,15.2" fill="#1f77b4"/>
<polygon points="1821.3,10.7 1812.2,29.2 1830.3,29.2" fill="#1f77b4"/>
<polygon points="1824.4,24.5 1815.4,6.0 1833.5,6.0" fill="#1f77b4"/>
<polygon points="1826.0,20.0 1817.0,38.5 1835.0,38.5" fill="#1f77b4"/>
<polygon points="1827.4,30.5 1818.4,12.0 1836.5,12.0" fill="#1f77b4"/>
<polygon points="1827.4,1.5 1818.4,20.0 1836.5,20.0" fill="#1f77b4"/>
<polygon points="1830.9,7.5 1821.9,26.0 1840.0,26.0" fill="#1f77b4"/>
<line x1="1853.9" y1="40.0" x2="1853.9" y2="71.0" stroke="#1f77b4" stroke-width="3.6"/>
<polygon points="1853.9,68.0 1844.9,49.5 1863.0,49.5" fill="#1f77b4"/>
<line x1="1856.7" y1="161.8" x2="1856.7" y2="411.5" stroke="#1f77b4" stroke-width="3.6"/>
<polygon points="1856.7,299.3 1847.7,280.8 1865.8,280.8" fill="#1f77b4"/>
<line x1="1860.0" y1="27.0" x2="1860.0" y2="66.0" stroke="#1f77b4" stroke-width="3.6"/>
<polygon points="1860.0,58.4 1851.0,39.9 1869.0,39.9" fill="#1f77b4"/>
<polygon points="1865.7,68.5 1856.7,87.0 1874.8,87.0" fill="#ff7f0e"/>
<polygon points="1866.7,80.7 1857.7,62.2 1875.8,62.2" fill="#ff7f0e"/>
<polygon points="1866.7,73.5 1857.7,92.0 1875.8,92.0" fill="#ff7f0e"/>
<polygon points="1867.7,86.0 1858.7,67.5 1876.8,67.5" fill="#ff7f0e"/>
<polygon points="1879.0,22.9 1870.0,4.4 1888.0,4.4" fill="#1f77b4"/>
<polygon points="1880.0,-8.0 1871.0,10.5 1889.0,10.5" fill="#1f77b4"/>
<polygon points="1880.0,613.0 1871.0,631.5 1889.0,631.5" fill="#1f77b4"/>
<polygon points="1882.0,-0.1 1873.0,18.4 1891.0,18.4" fill="#1f77b4"/>
<polygon points="1882.0,28.9 1873.0,10.4 1891.0,10.4" fill="#1f77b4"/>
<polygon points="1884.0,34.0 1875.0,15.5 1893.0,15.5" fill="#1f77b4"/>
<polygon points="1884.3,60.8 1875.2,79.3 1893.3,79.3" fill="#ff7f0e"/>
<polygon points="1884.3,89.8 1875.2,71.3 1893.3,71.3" fill="#ff7f0e"/>
<polygon points="1885.5,5.9 1876.5,24.4 1894.5,24.4" fill="#1f77b4"/>
<polygon points="1885.6,609.0 1876.5,627.5 1894.6,627.5" fill="#1f77b4"/>
<polygon points="1890.0,68.8 1881.0,87.3 1899.0,87.3" fill="#ff7f0e"/>
<polygon points="1890.0,97.8 1881.0,79.3 1899.0,79.3" fill="#ff7f0e"/>
<polygon points="1896.5,43.5 1887.5,25.0 1905.5,25.0" fill="#1f77b4"/>
<polygon points="1899.5,20.5 1890.5,39.0 1908.5,39.0" fill="#1f77b4"/>
<polygon points="1899.5,49.5 1890.5,31.0 1908.5,31.0" fill="#1f77b4"/>
<polygon points="1902.7,106.5 1893.7,125.0 1911.8,125.0" fill="#ff7f0e"/>
<line x1="1902.7" y1="120.0" x2="1902.7" y2="171.4" stroke="#ff7f0e" stroke-width="3.6"/>
<polygon points="1902.7,159.3 1893.7,140.8 1911.8,140.8" fill="#ff7f0e"/>
<polygon points="1903.0,26.5 1894.0,45.0 1912.0,45.0" fill="#1f77b4"/>
<line x1="1906.0" y1="65.0" x2="1906.0" y2="130.0" stroke="#ff7f0e" stroke-width="3.6"/>
<polygon points="1906.0,89.5 1897.0,108.0 1915.0,108.0" fill="#ff7f0e"/>
<polygon points="1906.0,118.5 1897.0,100.0 1915.0,100.0" fill="#ff7f0e"/>
<polygon points="1906.0,42.1 1897.0,23.6 1915.0,23.6" fill="#1f77b4"/>
<line x1="1909.0" y1="125.0" x2="1909.0" y2="168.0" stroke="#ff7f0e" stroke-width="3.6"/>
<polygon points="1909.0,135.3 1900.0,153.8 1918.0,153.8" fill="#ff7f0e"/>
<polygon points="1909.0,19.1 1900.0,37.6 1918.0,37.6" fill="#1f77b4"/>
<polygon points="1909.0,48.1 1900.0,29.6 1918.0,29.6" fill="#1f77b4"/>
<line x1="1912.3" y1="110.0" x2="1912.3" y2="165.0" stroke="#ff7f0e" stroke-width="3.6"/>
<polygon points="1912.3,145.0 1903.2,126.5 1921.3,126.5" fill="#ff7f0e"/>
<polygon points="1912.5,25.1 1903.5,43.6 1921.5,43.6" fill="#1f77b4"/>
<polygon points="1912.5,64.5 1903.5,46.0 1921.5,46.0" fill="#1f77b4"/>
<polygon points="1915.5,41.5 1906.5,60.0 1924.5,60.0" fill="#1f77b4"/>
<polygon points="1915.5,70.5 1906.5,52.0 1924.5,52.0" fill="#1f77b4"/>
<polygon points="1915.7,48.5 1906.7,30.0 1924.8,30.0" fill="#1f77b4"/>
<polygon points="1918.7,25.5 1909.7,44.0 1927.8,44.0" fill="#1f77b4"/>
<polygon points="1918.7,54.5 1909.7,36.0 1927.8,36.0" fill="#1f77b4"/>
<polygon points="1919.0,47.5 1910.0,66.0 1928.0,66.0" fill="#1f77b4"/>
<line x1="1921.0" y1="22.0" x2="1921.0" y2="72.0" stroke="#1f77b4" stroke-width="3.6"/>
<polygon points="1921.0,20.0 1912.0,38.5 1930.0,38.5" fill="#1f77b4"/>
<polygon points="1922.0,96.0 1913.0,114.5 1931.0,114.5" fill="#ff7f0e"/>
<polygon points="1922.0,125.0 1913.0,106.5 1931.0,106.5" fill="#ff7f0e"/>
<polygon points="1922.0,74.5 1913.0,93.0 1931.0,93.0" fill="#1f77b4"/>
<polygon points="1922.2,31.5 1913.2,50.0 1931.2,50.0" fill="#1f77b4"/>
<line x1="1924.8" y1="175.4" x2="1924.8" y2="197.0" stroke="#ff7f0e" stroke-width="3.6"/>
<polygon points="1924.8,198.6 1915.8,180.1 1933.8,180.1" fill="#ff7f0e"/>
<line x1="1931.3" y1="232.6" x2="1931.3" y2="266.3" stroke="#1f77b4" stroke-width="3.6"/>
<polygon points="1931.3,261.4 1922.2,242.9 1940.3,242.9" fill="#1f77b4"/>
<line x1="1931.5" y1="43.0" x2="1931.5" y2="66.0" stroke="#1f77b4" stroke-width="3.6"/>
<polygon points="1931.5,40.9 1922.5,59.4 1940.5,59.4" fill="#1f77b4"/>
<line x1="1934.7" y1="584.6" x2="1934.7" y2="626.0" stroke="#1f77b4" stroke-width="3.6"/>
<polygon points="1934.7,620.4 1925.7,601.9 1943.8,601.9" fill="#1f77b4"/>
<polygon points="1935.5,2.4 1926.5,20.9 1944.5,20.9" fill="#1f77b4"/>
<polygon points="1938.0,55.3 1929.0,73.8 1947.0,73.8" fill="#1f77b4"/>
<line x1="1938.0" y1="1.0" x2="1938.0" y2="371.4" stroke="#1f77b4" stroke-width="3.6"/>
<polygon points="1938.0,217.0 1929.0,198.5 1947.0,198.5" fill="#1f77b4"/>
<line x1="1938.3" y1="387.7" x2="1938.3" y2="626.0" stroke="#1f77b4" stroke-width="3.6"/>
</g>
<rect x="1137" y="0.6" width="839" height="625.1999999999999" fill="none" stroke="#000" stroke-width="2.2"/>
<line x1="1208.6" y1="625.8" x2="1208.6" y2="634.1999999999999" stroke="#000" stroke-width="2.2"/>
<text x="1208.6" y="664.0" font-size="28.7" text-anchor="middle" font-family='"DejaVu Serif", "Liberation Serif", serif'>7</text>
<line x1="1305.7" y1="625.8" x2="1305.7" y2="634.1999999999999" stroke="#000" stroke-width="2.2"/>
<text x="1305.7" y="664.0" font-size="28.7" text-anchor="middle" font-family='"DejaVu Serif", "Liberation Serif", serif'>8</text>
<line x1="1402.8" y1="625.8" x2="1402.8" y2="634.1999999999999" stroke="#000" stroke-width="2.2"/>
<text x="1402.8" y="664.0" font-size="28.7" text-anchor="middle" font-family='"DejaVu Serif", "Liberation Serif", serif'>9</text>
<line x1="1499.9" y1="625.8" x2="1499.9" y2="634.1999999999999" stroke="#000" stroke-width="2.2"/>
<text x="1499.9" y="664.0" font-size="28.7" text-anchor="middle" font-family='"DejaVu Serif", "Liberation Serif", serif'>10</text>
<line x1="1597.0" y1="625.8" x2="1597.0" y2="634.1999999999999" stroke="#000" stroke-width="2.2"/>
<text x="1597.0" y="664.0" font-size="28.7" text-anchor="middle" font-family='"DejaVu Serif", "Liberation Serif", serif'>11</text>
<line x1="1694.1" y1="625.8" x2="1694.1" y2="634.1999999999999" stroke="#000" stroke-width="2.2"/>
<text x="1694.1" y="664.0" font-size="28.7" text-anchor="middle" font-family='"DejaVu Serif", "Liberation Serif", serif'>12</text>
<line x1="1791.2" y1="625.8" x2="1791.2" y2="634.1999999999999" stroke="#000" stroke-width="2.2"/>
<text x="1791.2" y="664.0" font-size="28.7" text-anchor="middle" font-family='"DejaVu Serif", "Liberation Serif", serif'>13</text>
<line x1="1888.3" y1="625.8" x2="1888.3" y2="634.1999999999999" stroke="#000" stroke-width="2.2"/>
<text x="1888.3" y="664.0" font-size="28.7" text-anchor="middle" font-family='"DejaVu Serif", "Liberation Serif", serif'>14</text>
<line x1="1128.6" y1="611.8" x2="1137" y2="611.8" stroke="#000" stroke-width="2.2"/>
<text x="1121.2" y="622.3" font-size="28.7" text-anchor="end" font-family='"DejaVu Serif", "Liberation Serif", serif'>−3</text>
<line x1="1128.6" y1="512.3" x2="1137" y2="512.3" stroke="#000" stroke-width="2.2"/>
<text x="1121.2" y="522.8" font-size="28.7" text-anchor="end" font-family='"DejaVu Serif", "Liberation Serif", serif'>−2</text>
<line x1="1128.6" y1="412.8" x2="1137" y2="412.8" stroke="#000" stroke-width="2.2"/>
<text x="1121.2" y="423.3" font-size="28.7" text-anchor="end" font-family='"DejaVu Serif", "Liberation Serif", serif'>−1</text>
<line x1="1128.6" y1="313.3" x2="1137" y2="313.3" stroke="#000" stroke-width="2.2"/>
<text x="1121.2" y="323.8" font-size="28.7" text-anchor="end" font-family='"DejaVu Serif", "Liberation Serif", serif'>0</text>
<line x1="1128.6" y1="213.8" x2="1137" y2="213.8" stroke="#000" stroke-width="2.2"/>
<text x="1121.2" y="224.3" font-size="28.7" text-anchor="end" font-family='"DejaVu Serif", "Liberation Serif", serif'>1</text>
<line x1="1128.6" y1="114.3" x2="1137" y2="114.3" stroke="#000" stroke-width="2.2"/>
<text x="1121.2" y="124.8" font-size="28.7" text-anchor="end" font-family='"DejaVu Serif", "Liberation Serif", serif'>2</text>
<line x1="1128.6" y1="14.8" x2="1137" y2="14.8" stroke="#000" stroke-width="2.2"/>
<text x="1121.2" y="25.3" font-size="28.7" text-anchor="end" font-family='"DejaVu Serif", "Liberation Serif", serif'>3</text>
<text x="1556.5" y="720.6" font-size="54.2" text-anchor="middle" font-family='"DejaVu Serif", "Liberation Serif", serif'>UT (h)</text>
<text transform="translate(1054.2,316.5) rotate(-90)" font-size="55.5" text-anchor="middle" font-family='"DejaVu Sans", "Liberation Sans", sans-serif'>∠<tspan font-style="oblique" dx="-1.0">β</tspan><tspan font-size="35" dy="9" dx="1" font-style="italic" font-family='"DejaVu Serif", "Liberation Serif", serif'>P</tspan><tspan font-size="38.8" dx="0.8">,</tspan><tspan font-size="38.8" dx="6.7">2</tspan><tspan dy="-9" font-size="54.2" letter-spacing="0" font-family='"DejaVu Serif", "Liberation Serif", serif'></tspan></text>
<clipPath id="c3"><rect x="125.1" y="770.0" width="839.6999999999999" height="625.3499999999999"/></clipPath>
<g clip-path="url(#c3)">
<rect x="162" y="1191" width="762" height="38.5" fill="#abd9ab"/>
<line x1="162.6" y1="1308.9" x2="162.6" y2="1397.0" stroke="#ff7f0e" stroke-width="3.6"/>
<polygon points="162.8,1385.5 153.8,1404.0 171.9,1404.0" fill="#ff7f0e"/>
<line x1="163.0" y1="770.0" x2="163.0" y2="859.3" stroke="#ff7f0e" stroke-width="3.6"/>
<polygon points="163.0,760.0 153.9,778.5 172.1,778.5" fill="#ff7f0e"/>
<polygon points="176.0,1124.0 166.9,1105.5 185.1,1105.5" fill="#ff7f0e"/>
<polygon points="176.0,1123.3 166.9,1141.8 185.1,1141.8" fill="#ff7f0e"/>
<line x1="176.4" y1="882.7" x2="176.4" y2="1216.0" stroke="#ff7f0e" stroke-width="3.6"/>
<line x1="179.3" y1="1035.0" x2="179.3" y2="1397.0" stroke="#ff7f0e" stroke-width="3.6"/>
<line x1="179.4" y1="770.0" x2="179.4" y2="860.3" stroke="#ff7f0e" stroke-width="3.6"/>
<polygon points="179.4,787.7 170.3,769.2 188.5,769.2" fill="#ff7f0e"/>
<polygon points="179.4,1147.8 170.3,1166.3 188.5,1166.3" fill="#ff7f0e"/>
<polygon points="180.6,1118.6 171.5,1137.1 189.7,1137.1" fill="#ff7f0e"/>
<polygon points="182.2,1295.6 173.1,1277.1 191.2,1277.1" fill="#ff7f0e"/>
<line x1="182.7" y1="990.0" x2="182.7" y2="1374.0" stroke="#ff7f0e" stroke-width="3.6"/>
<line x1="215.0" y1="1017.5" x2="215.0" y2="1308.0" stroke="#ff7f0e" stroke-width="3.6"/>
<polygon points="215.0,1111.5 205.9,1093.0 224.1,1093.0" fill="#ff7f0e"/>
<line x1="217.8" y1="770.0" x2="217.8" y2="1176.0" stroke="#ff7f0e" stroke-width="3.6"/>
<line x1="218.0" y1="1188.0" x2="218.0" y2="1397.0" stroke="#ff7f0e" stroke-width="3.6"/>
<polygon points="218.0,1138.0 208.9,1119.5 227.1,1119.5" fill="#ff7f0e"/>
<line x1="219.6" y1="780.8" x2="219.6" y2="835.3" stroke="#ff7f0e" stroke-width="3.6"/>
<polygon points="219.6,794.0 210.5,812.5 228.7,812.5" fill="#ff7f0e"/>
<polygon points="222.0,796.5 212.9,815.0 231.1,815.0" fill="#ff7f0e"/>
<line x1="250.7" y1="1146.0" x2="250.7" y2="1305.0" stroke="#ff7f0e" stroke-width="3.6"/>
<polygon points="250.7,1192.8 241.6,1174.3 259.8,1174.3" fill="#ff7f0e"/>
<line x1="253.5" y1="770.0" x2="253.5" y2="903.0" stroke="#ff7f0e" stroke-width="3.6"/>
<line x1="253.7" y1="1324.5" x2="253.7" y2="1397.0" stroke="#ff7f0e" stroke-width="3.6"/>
<polygon points="253.7,1367.0 244.6,1348.5 262.8,1348.5" fill="#ff7f0e"/>
<line x1="257.0" y1="1181.0" x2="257.0" y2="1323.0" stroke="#ff7f0e" stroke-width="3.6"/>
<polygon points="257.0,1231.4 247.9,1212.9 266.1,1212.9" fill="#ff7f0e"/>
<line x1="454.0" y1="838.4" x2="454.0" y2="1145.0" stroke="#ff7f0e" stroke-width="3.6"/>
<polygon points="454.0,899.0 444.9,880.5 463.1,880.5" fill="#ff7f0e"/>
<line x1="457.3" y1="770.0" x2="457.3" y2="821.5" stroke="#ff7f0e" stroke-width="3.6"/>
<line x1="457.4" y1="1209.8" x2="457.4" y2="1397.0" stroke="#ff7f0e" stroke-width="3.6"/>
<polygon points="457.4,1312.5 448.3,1294.0 466.4,1294.0" fill="#ff7f0e"/>
<line x1="486.3" y1="885.0" x2="486.3" y2="1068.0" stroke="#ff7f0e" stroke-width="3.6"/>
<polygon points="486.3,950.4 477.2,931.9 495.4,931.9" fill="#ff7f0e"/>
<line x1="538.0" y1="1224.5" x2="538.0" y2="1397.0" stroke="#1f77b4" stroke-width="3.6"/>
<polygon points="538.0,1295.3 529.0,1313.8 547.0,1313.8" fill="#1f77b4"/>
<line x1="538.2" y1="770.0" x2="538.2" y2="894.6" stroke="#1f77b4" stroke-width="3.6"/>
<line x1="540.7" y1="1257.0" x2="540.7" y2="1284.6" stroke="#1f77b4" stroke-width="3.6"/>
<polygon points="540.7,1258.0 531.7,1276.5 549.8,1276.5" fill="#1f77b4"/>
<line x1="563.8" y1="1182.5" x2="563.8" y2="1397.0" stroke="#ff7f0e" stroke-width="3.6"/>
<polygon points="563.8,1201.3 554.8,1182.8 572.8,1182.8" fill="#ff7f0e"/>
<line x1="564.0" y1="770.0" x2="564.0" y2="820.0" stroke="#ff7f0e" stroke-width="3.6"/>
<polygon points="566.8,1219.3 557.8,1237.8 575.8,1237.8" fill="#1f77b4"/>
<line x1="567.0" y1="805.0" x2="567.0" y2="1187.0" stroke="#ff7f0e" stroke-width="3.6"/>
<polygon points="567.0,959.6 558.0,941.1 576.0,941.1" fill="#ff7f0e"/>
<line x1="570.5" y1="1173.0" x2="570.5" y2="1397.0" stroke="#1f77b4" stroke-width="8.756756756756756"/>
<polygon points="570.6,1235.2 561.6,1253.7 579.6,1253.7" fill="#1f77b4"/>
<line x1="572.5" y1="770.0" x2="572.5" y2="872.0" stroke="#1f77b4" stroke-width="5.837837837837838"/>
<polygon points="573.6,1191.0 564.6,1209.5 582.6,1209.5" fill="#1f77b4"/>
<line x1="586.5" y1="1044.0" x2="586.5" y2="1334.6" stroke="#1f77b4" stroke-width="3.6"/>
<polygon points="586.5,1178.5 577.5,1197.0 595.5,1197.0" fill="#1f77b4"/>
<line x1="589.7" y1="770.0" x2="589.7" y2="889.7" stroke="#1f77b4" stroke-width="3.6"/>
<line x1="590.0" y1="1309.6" x2="590.0" y2="1397.0" stroke="#1f77b4" stroke-width="3.6"/>
<polygon points="590.0,1368.0 581.0,1386.5 599.0,1386.5" fill="#1f77b4"/>
<line x1="592.9" y1="1178.0" x2="592.9" y2="1309.6" stroke="#1f77b4" stroke-width="3.6"/>
<polygon points="592.9,1221.6 583.9,1240.1 601.9,1240.1" fill="#1f77b4"/>
<polygon points="637.8,1199.0 628.8,1217.5 646.8,1217.5" fill="#1f77b4"/>
<polygon points="638.0,883.0 629.0,864.5 647.0,864.5" fill="#1f77b4"/>
<line x1="638.2" y1="959.0" x2="638.2" y2="1397.0" stroke="#1f77b4" stroke-width="3.6"/>
<line x1="638.5" y1="770.0" x2="638.5" y2="954.9" stroke="#1f77b4" stroke-width="3.6"/>
<polygon points="640.5,1275.0 631.5,1293.5 649.5,1293.5" fill="#1f77b4"/>
<line x1="643.0" y1="770.0" x2="643.0" y2="873.0" stroke="#1f77b4" stroke-width="10.702702702702702"/>
<line x1="643.0" y1="1245.0" x2="643.0" y2="1397.0" stroke="#1f77b4" stroke-width="8.756756756756756"/>
<polygon points="645.0,1375.0 636.0,1393.5 654.0,1393.5" fill="#1f77b4"/>
<polygon points="649.0,767.0 640.0,785.5 658.0,785.5" fill="#1f77b4"/>
<line x1="661.0" y1="1184.8" x2="661.0" y2="1332.3" stroke="#ff7f0e" stroke-width="3.6"/>
<polygon points="661.0,1210.4 652.0,1191.9 670.0,1191.9" fill="#ff7f0e"/>
<polygon points="663.2,1129.7 654.2,1148.2 672.2,1148.2" fill="#ff7f0e"/>
<line x1="664.3" y1="884.0" x2="664.3" y2="1163.0" stroke="#ff7f0e" stroke-width="3.6"/>
<polygon points="664.3,943.0 655.2,924.5 673.3,924.5" fill="#ff7f0e"/>
<line x1="667.0" y1="770.0" x2="667.0" y2="852.0" stroke="#ff7f0e" stroke-width="3.6"/>
<line x1="667.8" y1="1179.0" x2="667.8" y2="1397.0" stroke="#ff7f0e" stroke-width="3.6"/>
<polygon points="667.8,1261.5 658.8,1243.0 676.8,1243.0" fill="#ff7f0e"/>
<polygon points="670.0,917.0 661.0,898.5 679.0,898.5" fill="#1f77b4"/>
<line x1="670.3" y1="833.7" x2="670.3" y2="1159.0" stroke="#ff7f0e" stroke-width="3.6"/>
<polygon points="670.3,925.8 661.2,907.3 679.3,907.3" fill="#ff7f0e"/>
<line x1="674.0" y1="828.8" x2="674.0" y2="900.0" stroke="#1f77b4" stroke-width="3.6"/>
<polygon points="674.0,872.4 665.0,853.9 683.0,853.9" fill="#1f77b4"/>
<polygon points="674.6,1154.6 665.6,1173.1 683.6,1173.1" fill="#1f77b4"/>
<line x1="675.6" y1="890.0" x2="675.6" y2="1173.5" stroke="#1f77b4" stroke-width="5.837837837837838"/>
<line x1="687.0" y1="901.0" x2="687.0" y2="1180.0" stroke="#1f77b4" stroke-width="3.6"/>
<polygon points="687.0,979.3 678.0,960.8 696.0,960.8" fill="#1f77b4"/>
<line x1="690.0" y1="1180.0" x2="690.0" y2="1259.7" stroke="#1f77b4" stroke-width="3.6"/>
<polygon points="690.7,1019.4 681.7,1037.9 699.8,1037.9" fill="#1f77b4"/>
<line x1="692.5" y1="924.0" x2="692.5" y2="1180.0" stroke="#1f77b4" stroke-width="7.783783783783783"/>
<polygon points="694.0,1013.5 685.0,995.0 703.0,995.0" fill="#1f77b4"/>
<line x1="696.6" y1="1180.0" x2="696.6" y2="1315.3" stroke="#1f77b4" stroke-width="3.6"/>
<line x1="696.7" y1="897.0" x2="696.7" y2="1180.0" stroke="#1f77b4" stroke-width="3.6"/>
<polygon points="696.7,928.0 687.7,909.5 705.8,909.5" fill="#1f77b4"/>
<line x1="715.9" y1="973.7" x2="715.9" y2="1287.0" stroke="#ff7f0e" stroke-width="3.6"/>
<polygon points="715.9,1262.6 706.9,1244.1 724.9,1244.1" fill="#ff7f0e"/>
<line x1="718.5" y1="770.0" x2="718.5" y2="1005.7" stroke="#ff7f0e" stroke-width="3.6"/>
<line x1="719.0" y1="1309.6" x2="719.0" y2="1397.0" stroke="#ff7f0e" stroke-width="3.6"/>
<polygon points="719.0,1352.2 710.0,1333.7 728.0,1333.7" fill="#ff7f0e"/>
<line x1="722.0" y1="1186.0" x2="722.0" y2="1321.0" stroke="#ff7f0e" stroke-width="3.6"/>
<polygon points="722.0,1292.0 713.0,1273.5 731.0,1273.5" fill="#ff7f0e"/>
<polygon points="744.7,1241.0 735.7,1259.5 753.8,1259.5" fill="#1f77b4"/>
<line x1="745.0" y1="770.0" x2="745.0" y2="1397.0" stroke="#ff7f0e" stroke-width="3.6"/>
<polygon points="745.0,898.0 736.0,879.5 754.0,879.5" fill="#ff7f0e"/>
<polygon points="745.0,999.0 736.0,1017.5 754.0,1017.5" fill="#ff7f0e"/>
<line x1="745.0" y1="770.0" x2="745.0" y2="843.0" stroke="#1f77b4" stroke-width="3.6"/>
<polygon points="745.0,800.8 736.0,782.3 754.0,782.3" fill="#1f77b4"/>
<line x1="745.0" y1="1183.7" x2="745.0" y2="1397.0" stroke="#1f77b4" stroke-width="3.6"/>
<polygon points="748.0,1231.8 739.0,1250.3 757.0,1250.3" fill="#ff7f0e"/>
<line x1="748.4" y1="770.0" x2="748.4" y2="1397.0" stroke="#ff7f0e" stroke-width="3.6"/>
<polygon points="748.4,908.8 739.4,890.3 757.4,890.3" fill="#ff7f0e"/>
<polygon points="748.4,1081.8 739.4,1063.3 757.4,1063.3" fill="#1f77b4"/>
<polygon points="750.0,1286.5 741.0,1268.0 759.0,1268.0" fill="#1f77b4"/>
<polygon points="750.0,1271.5 741.0,1290.0 759.0,1290.0" fill="#1f77b4"/>
<line x1="751.6" y1="770.0" x2="751.6" y2="1397.0" stroke="#ff7f0e" stroke-width="3.6"/>
<polygon points="751.6,795.0 742.6,813.5 760.6,813.5" fill="#ff7f0e"/>
<polygon points="751.6,926.4 742.6,944.9 760.6,944.9" fill="#1f77b4"/>
<polygon points="753.7,1172.0 744.7,1153.5 762.8,1153.5" fill="#ff7f0e"/>
<polygon points="754.8,775.8 745.8,794.3 763.8,794.3" fill="#ff7f0e"/>
<line x1="760.8" y1="918.0" x2="760.8" y2="1196.0" stroke="#1f77b4" stroke-width="3.6"/>
<polygon points="761.2,952.6 752.2,934.1 770.2,934.1" fill="#1f77b4"/>
<polygon points="762.0,1155.8 753.0,1174.3 771.0,1174.3" fill="#1f77b4"/>
<polygon points="762.3,1015.0 753.2,1033.5 771.3,1033.5" fill="#1f77b4"/>
<line x1="763.8" y1="946.0" x2="763.8" y2="1100.0" stroke="#1f77b4" stroke-width="3.6"/>
<line x1="764.0" y1="770.0" x2="764.0" y2="878.6" stroke="#ff7f0e" stroke-width="3.6"/>
<line x1="764.0" y1="1219.0" x2="764.0" y2="1397.0" stroke="#ff7f0e" stroke-width="3.6"/>
<polygon points="764.0,1235.4 755.0,1216.9 773.0,1216.9" fill="#ff7f0e"/>
<polygon points="764.0,1212.7 755.0,1194.2 773.0,1194.2" fill="#1f77b4"/>
<line x1="767.4" y1="1190.0" x2="767.4" y2="1330.0" stroke="#1f77b4" stroke-width="3.6"/>
<polygon points="767.4,1236.3 758.4,1254.8 776.4,1254.8" fill="#1f77b4"/>
<line x1="769.5" y1="1150.0" x2="769.5" y2="1397.0" stroke="#ff7f0e" stroke-width="7.783783783783783"/>
<polygon points="769.6,1216.0 760.6,1234.5 778.6,1234.5" fill="#1f77b4"/>
<polygon points="770.8,1024.7 761.8,1043.2 779.8,1043.2" fill="#ff7f0e"/>
<polygon points="770.8,1217.0 761.8,1198.5 779.8,1198.5" fill="#1f77b4"/>
<line x1="773.0" y1="1002.6" x2="773.0" y2="1397.0" stroke="#ff7f0e" stroke-width="5.837837837837838"/>
<polygon points="774.0,997.0 765.0,1015.5 783.0,1015.5" fill="#ff7f0e"/>
<line x1="775.3" y1="1196.0" x2="775.3" y2="1397.0" stroke="#ff7f0e" stroke-width="3.6"/>
<line x1="775.6" y1="770.0" x2="775.6" y2="884.0" stroke="#ff7f0e" stroke-width="5.837837837837838"/>
<polygon points="777.2,779.0 768.2,797.5 786.2,797.5" fill="#ff7f0e"/>
<polygon points="777.6,1249.0 768.6,1230.5 786.6,1230.5" fill="#ff7f0e"/>
<polygon points="793.5,1280.8 784.5,1262.3 802.5,1262.3" fill="#1f77b4"/>
<line x1="793.9" y1="770.0" x2="793.9" y2="827.3" stroke="#1f77b4" stroke-width="3.6"/>
<polygon points="793.9,773.6 784.9,792.1 802.9,792.1" fill="#1f77b4"/>
<line x1="796.9" y1="1116.7" x2="796.9" y2="1397.0" stroke="#1f77b4" stroke-width="3.6"/>
<polygon points="796.9,1184.3 787.9,1165.8 805.9,1165.8" fill="#1f77b4"/>
<polygon points="799.0,1200.0 790.0,1218.5 808.0,1218.5" fill="#ff7f0e"/>
<polygon points="799.0,1233.0 790.0,1214.5 808.0,1214.5" fill="#ff7f0e"/>
<polygon points="799.0,1241.0 790.0,1259.5 808.0,1259.5" fill="#1f77b4"/>
<line x1="799.7" y1="770.0" x2="799.7" y2="781.0" stroke="#1f77b4" stroke-width="3.6"/>
<line x1="799.7" y1="837.0" x2="799.7" y2="847.6" stroke="#1f77b4" stroke-width="3.6"/>
<polygon points="799.8,1347.7 790.8,1329.2 808.8,1329.2" fill="#1f77b4"/>
<polygon points="800.0,801.4 791.0,819.9 809.0,819.9" fill="#ff7f0e"/>
<polygon points="800.0,1024.0 791.0,1005.5 809.0,1005.5" fill="#ff7f0e"/>
<line x1="802.0" y1="770.0" x2="802.0" y2="1397.0" stroke="#ff7f0e" stroke-width="6.8108108108108105"/>
<polygon points="802.9,941.9 793.9,923.4 811.9,923.4" fill="#ff7f0e"/>
<line x1="809.3" y1="1077.0" x2="809.3" y2="1187.0" stroke="#1f77b4" stroke-width="3.6"/>
<polygon points="809.3,1181.0 800.2,1162.5 818.3,1162.5" fill="#1f77b4"/>
<polygon points="814.0,1270.4 805.0,1288.9 823.0,1288.9" fill="#1f77b4"/>
<line x1="815.0" y1="1216.6" x2="815.0" y2="1397.0" stroke="#1f77b4" stroke-width="10.702702702702702"/>
<polygon points="815.0,1322.7 806.0,1304.2 824.0,1304.2" fill="#1f77b4"/>
<polygon points="816.0,1329.4 807.0,1347.9 825.0,1347.9" fill="#1f77b4"/>
<polygon points="818.4,1275.0 809.4,1256.5 827.4,1256.5" fill="#1f77b4"/>
<line x1="819.3" y1="770.0" x2="819.3" y2="839.5" stroke="#1f77b4" stroke-width="3.6"/>
<polygon points="819.3,767.2 810.2,785.7 828.3,785.7" fill="#1f77b4"/>
<line x1="841.5" y1="1060.0" x2="841.5" y2="1137.6" stroke="#1f77b4" stroke-width="3.6"/>
<polygon points="842.4,1049.8 833.4,1031.3 851.4,1031.3" fill="#1f77b4"/>
<line x1="845.0" y1="776.7" x2="845.0" y2="1182.5" stroke="#1f77b4" stroke-width="3.6"/>
<polygon points="845.0,976.0 836.0,957.5 854.0,957.5" fill="#1f77b4"/>
<line x1="848.8" y1="895.7" x2="848.8" y2="1203.0" stroke="#1f77b4" stroke-width="6.8108108108108105"/>
<polygon points="848.8,1010.0 839.8,991.5 857.8,991.5" fill="#1f77b4"/>
<polygon points="851.3,1210.4 842.2,1191.9 860.3,1191.9" fill="#ff7f0e"/>
<polygon points="854.7,1200.0 845.7,1218.5 863.8,1218.5" fill="#ff7f0e"/>
<polygon points="855.9,1297.0 846.9,1278.5 864.9,1278.5" fill="#ff7f0e"/>
<polygon points="855.9,1285.0 846.9,1303.5 864.9,1303.5" fill="#ff7f0e"/>
<line x1="857.5" y1="1207.5" x2="857.5" y2="1397.0" stroke="#ff7f0e" stroke-width="7.783783783783783"/>
<line x1="857.8" y1="770.0" x2="857.8" y2="907.4" stroke="#ff7f0e" stroke-width="3.6"/>
<line x1="858.0" y1="770.0" x2="858.0" y2="896.8" stroke="#ff7f0e" stroke-width="8.756756756756756"/>
<polygon points="858.0,1375.0 849.0,1356.5 867.0,1356.5" fill="#ff7f0e"/>
<polygon points="861.2,888.5 852.2,870.0 870.2,870.0" fill="#ff7f0e"/>
<line x1="868.3" y1="1147.0" x2="868.3" y2="1397.0" stroke="#1f77b4" stroke-width="3.6"/>
<polygon points="868.3,1197.8 859.2,1216.3 877.3,1216.3" fill="#1f77b4"/>
<polygon points="868.3,1221.8 859.2,1203.3 877.3,1203.3" fill="#1f77b4"/>
<polygon points="870.6,1205.7 861.6,1224.2 879.6,1224.2" fill="#ff7f0e"/>
<line x1="870.8" y1="770.0" x2="870.8" y2="931.0" stroke="#1f77b4" stroke-width="3.6"/>
<polygon points="871.2,1001.7 862.2,983.2 880.2,983.2" fill="#ff7f0e"/>
<polygon points="871.2,838.2 862.2,819.7 880.2,819.7" fill="#1f77b4"/>
<polygon points="871.2,878.3 862.2,896.8 880.2,896.8" fill="#1f77b4"/>
<line x1="871.7" y1="1341.4" x2="871.7" y2="1397.0" stroke="#1f77b4" stroke-width="3.6"/>
<line x1="872.9" y1="1060.0" x2="872.9" y2="1200.7" stroke="#ff7f0e" stroke-width="3.6"/>
<line x1="873.4" y1="908.5" x2="873.4" y2="1200.0" stroke="#ff7f0e" stroke-width="3.6"/>
<polygon points="874.0,1159.2 865.0,1177.7 883.0,1177.7" fill="#ff7f0e"/>
<polygon points="874.4,1019.9 865.4,1001.4 883.4,1001.4" fill="#ff7f0e"/>
<line x1="877.4" y1="1237.0" x2="877.4" y2="1397.0" stroke="#ff7f0e" stroke-width="3.6"/>
<line x1="877.6" y1="770.0" x2="877.6" y2="870.0" stroke="#ff7f0e" stroke-width="3.6"/>
<polygon points="878.5,1256.0 869.5,1237.5 887.5,1237.5" fill="#ff7f0e"/>
<polygon points="878.5,1240.0 869.5,1258.5 887.5,1258.5" fill="#ff7f0e"/>
<line x1="884.2" y1="1209.8" x2="884.2" y2="1293.7" stroke="#1f77b4" stroke-width="3.6"/>
<polygon points="884.2,1213.6 875.2,1232.1 893.2,1232.1" fill="#1f77b4"/>
<line x1="887.3" y1="770.0" x2="887.3" y2="928.8" stroke="#1f77b4" stroke-width="3.6"/>
<polygon points="887.3,847.4 878.2,865.9 896.3,865.9" fill="#1f77b4"/>
<line x1="890.5" y1="915.0" x2="890.5" y2="1080.0" stroke="#1f77b4" stroke-width="3.6"/>
<polygon points="890.5,1038.6 881.5,1057.1 899.5,1057.1" fill="#1f77b4"/>
<line x1="890.6" y1="1290.0" x2="890.6" y2="1397.0" stroke="#1f77b4" stroke-width="3.6"/>
<polygon points="890.6,1321.6 881.6,1303.1 899.6,1303.1" fill="#1f77b4"/>
<polygon points="891.0,1178.5 882.0,1197.0 900.0,1197.0" fill="#ff7f0e"/>
<polygon points="893.7,928.6 884.7,947.1 902.8,947.1" fill="#ff7f0e"/>
<polygon points="893.7,1023.0 884.7,1004.5 902.8,1004.5" fill="#ff7f0e"/>
<polygon points="894.4,1386.3 885.4,1367.8 903.4,1367.8" fill="#ff7f0e"/>
<line x1="894.4" y1="1290.0" x2="894.4" y2="1397.0" stroke="#ff7f0e" stroke-width="3.6"/>
<line x1="895.5" y1="770.0" x2="895.5" y2="1207.5" stroke="#ff7f0e" stroke-width="7.783783783783783"/>
<polygon points="896.7,1217.0 887.7,1235.5 905.8,1235.5" fill="#ff7f0e"/>
<polygon points="898.0,1031.6 889.0,1013.1 907.0,1013.1" fill="#ff7f0e"/>
<polygon points="901.2,1386.3 892.2,1367.8 910.2,1367.8" fill="#ff7f0e"/>
<line x1="901.2" y1="1300.0" x2="901.2" y2="1397.0" stroke="#ff7f0e" stroke-width="3.6"/>
<line x1="903.3" y1="911.7" x2="903.3" y2="1397.0" stroke="#1f77b4" stroke-width="3.6"/>
<polygon points="903.3,800.4 894.2,818.9 912.3,818.9" fill="#1f77b4"/>
<polygon points="903.5,1109.3 894.5,1127.8 912.5,1127.8" fill="#1f77b4"/>
<polygon points="903.5,1305.7 894.5,1287.2 912.5,1287.2" fill="#1f77b4"/>
<line x1="906.5" y1="770.0" x2="906.5" y2="858.3" stroke="#1f77b4" stroke-width="3.6"/>
<polygon points="906.9,1263.7 897.9,1245.2 915.9,1245.2" fill="#1f77b4"/>
<line x1="909.2" y1="1253.0" x2="909.2" y2="1397.0" stroke="#ff7f0e" stroke-width="3.6"/>
<line x1="909.7" y1="770.0" x2="909.7" y2="1019.6" stroke="#ff7f0e" stroke-width="3.6"/>
<polygon points="909.7,913.6 900.7,932.1 918.8,932.1" fill="#ff7f0e"/>
<polygon points="909.7,881.5 900.7,900.0 918.8,900.0" fill="#1f77b4"/>
<polygon points="910.3,1325.0 901.2,1306.5 919.3,1306.5" fill="#1f77b4"/>
<polygon points="910.8,823.3 901.8,804.8 919.8,804.8" fill="#ff7f0e"/>
<line x1="913.0" y1="1182.5" x2="913.0" y2="1318.7" stroke="#ff7f0e" stroke-width="3.6"/>
<polygon points="913.0,1247.9 904.0,1229.4 922.0,1229.4" fill="#ff7f0e"/>
<line x1="922.5" y1="864.7" x2="922.5" y2="1125.8" stroke="#1f77b4" stroke-width="6.8108108108108105"/>
<polygon points="922.5,911.0 913.5,892.5 931.5,892.5" fill="#1f77b4"/>
<polygon points="922.5,959.5 913.5,978.0 931.5,978.0" fill="#1f77b4"/>
<line x1="922.8" y1="1060.0" x2="922.8" y2="1125.8" stroke="#1f77b4" stroke-width="3.6"/>
<polygon points="925.7,861.2 916.7,879.7 934.8,879.7" fill="#1f77b4"/>
<line x1="926.2" y1="770.0" x2="926.2" y2="787.8" stroke="#1f77b4" stroke-width="3.6"/>
<line x1="926.2" y1="822.0" x2="926.2" y2="905.0" stroke="#1f77b4" stroke-width="3.6"/>
<line x1="926.2" y1="1134.9" x2="926.2" y2="1397.0" stroke="#1f77b4" stroke-width="3.6"/>
<polygon points="926.2,1224.0 917.2,1205.5 935.2,1205.5" fill="#1f77b4"/>
</g>
<rect x="125.1" y="770.0" width="839.6999999999999" height="625.3499999999999" fill="none" stroke="#000" stroke-width="2.2"/>
<line x1="197.0" y1="1395.35" x2="197.0" y2="1403.75" stroke="#000" stroke-width="2.2"/>
<text x="197.0" y="1433.5" font-size="28.7" text-anchor="middle" font-family='"DejaVu Serif", "Liberation Serif", serif'>7</text>
<line x1="294.0" y1="1395.35" x2="294.0" y2="1403.75" stroke="#000" stroke-width="2.2"/>
<text x="294.0" y="1433.5" font-size="28.7" text-anchor="middle" font-family='"DejaVu Serif", "Liberation Serif", serif'>8</text>
<line x1="391.0" y1="1395.35" x2="391.0" y2="1403.75" stroke="#000" stroke-width="2.2"/>
<text x="391.0" y="1433.5" font-size="28.7" text-anchor="middle" font-family='"DejaVu Serif", "Liberation Serif", serif'>9</text>
<line x1="488.0" y1="1395.35" x2="488.0" y2="1403.75" stroke="#000" stroke-width="2.2"/>
<text x="488.0" y="1433.5" font-size="28.7" text-anchor="middle" font-family='"DejaVu Serif", "Liberation Serif", serif'>10</text>
<line x1="585.0" y1="1395.35" x2="585.0" y2="1403.75" stroke="#000" stroke-width="2.2"/>
<text x="585.0" y="1433.5" font-size="28.7" text-anchor="middle" font-family='"DejaVu Serif", "Liberation Serif", serif'>11</text>
<line x1="682.0" y1="1395.35" x2="682.0" y2="1403.75" stroke="#000" stroke-width="2.2"/>
<text x="682.0" y="1433.5" font-size="28.7" text-anchor="middle" font-family='"DejaVu Serif", "Liberation Serif", serif'>12</text>
<line x1="779.0" y1="1395.35" x2="779.0" y2="1403.75" stroke="#000" stroke-width="2.2"/>
<text x="779.0" y="1433.5" font-size="28.7" text-anchor="middle" font-family='"DejaVu Serif", "Liberation Serif", serif'>13</text>
<line x1="876.0" y1="1395.35" x2="876.0" y2="1403.75" stroke="#000" stroke-width="2.2"/>
<text x="876.0" y="1433.5" font-size="28.7" text-anchor="middle" font-family='"DejaVu Serif", "Liberation Serif", serif'>14</text>
<line x1="116.69999999999999" y1="1381.3" x2="125.1" y2="1381.3" stroke="#000" stroke-width="2.2"/>
<text x="109.3" y="1391.8" font-size="28.7" text-anchor="end" font-family='"DejaVu Serif", "Liberation Serif", serif'>−3</text>
<line x1="116.69999999999999" y1="1281.8" x2="125.1" y2="1281.8" stroke="#000" stroke-width="2.2"/>
<text x="109.3" y="1292.3" font-size="28.7" text-anchor="end" font-family='"DejaVu Serif", "Liberation Serif", serif'>−2</text>
<line x1="116.69999999999999" y1="1182.3" x2="125.1" y2="1182.3" stroke="#000" stroke-width="2.2"/>
<text x="109.3" y="1192.8" font-size="28.7" text-anchor="end" font-family='"DejaVu Serif", "Liberation Serif", serif'>−1</text>
<line x1="116.69999999999999" y1="1082.8" x2="125.1" y2="1082.8" stroke="#000" stroke-width="2.2"/>
<text x="109.3" y="1093.3" font-size="28.7" text-anchor="end" font-family='"DejaVu Serif", "Liberation Serif", serif'>0</text>
<line x1="116.69999999999999" y1="983.3" x2="125.1" y2="983.3" stroke="#000" stroke-width="2.2"/>
<text x="109.3" y="993.8" font-size="28.7" text-anchor="end" font-family='"DejaVu Serif", "Liberation Serif", serif'>1</text>
<line x1="116.69999999999999" y1="883.8" x2="125.1" y2="883.8" stroke="#000" stroke-width="2.2"/>
<text x="109.3" y="894.3" font-size="28.7" text-anchor="end" font-family='"DejaVu Serif", "Liberation Serif", serif'>2</text>
<line x1="116.69999999999999" y1="784.3" x2="125.1" y2="784.3" stroke="#000" stroke-width="2.2"/>
<text x="109.3" y="794.7" font-size="28.7" text-anchor="end" font-family='"DejaVu Serif", "Liberation Serif", serif'>3</text>
<text x="544.9" y="1489.5" font-size="54.2" text-anchor="middle" font-family='"DejaVu Serif", "Liberation Serif", serif'>UT (h)</text>
<text transform="translate(42,1082.7) rotate(-90)" font-size="55.5" text-anchor="middle" font-family='"DejaVu Sans", "Liberation Sans", sans-serif'>∠<tspan font-style="oblique" dx="1.5">β</tspan><tspan font-size="29.5" dy="9" dx="-4" font-family='"DejaVu Math TeX Gyre", "DejaVu Serif", serif'>𝒱</tspan><tspan font-size="38.8" dx="-3.2">,</tspan><tspan font-size="38.8" dx="8.5">1</tspan><tspan dy="-9" font-size="54.2" letter-spacing="0.3" font-family='"DejaVu Serif", "Liberation Serif", serif'>, closures</tspan></text>
<clipPath id="c4"><rect x="1137" y="770.0" width="838.7" height="625.3499999999999"/></clipPath>
<g clip-path="url(#c4)">
<rect x="1174.5" y="1295.3" width="762.5" height="22.700000000000045" fill="#abd9ab"/>
<line x1="1174.8" y1="770.0" x2="1174.8" y2="866.8" stroke="#ff7f0e" stroke-width="3.6"/>
<polygon points="1174.8,794.0 1165.8,812.5 1183.8,812.5" fill="#ff7f0e"/>
<line x1="1174.9" y1="1184.3" x2="1174.9" y2="1397.0" stroke="#ff7f0e" stroke-width="3.6"/>
<polygon points="1187.6,860.7 1178.5,842.2 1196.6,842.2" fill="#ff7f0e"/>
<polygon points="1188.0,1252.2 1179.0,1270.7 1197.0,1270.7" fill="#ff7f0e"/>
<polygon points="1190.8,1183.2 1181.8,1164.7 1199.8,1164.7" fill="#ff7f0e"/>
<polygon points="1190.8,1224.0 1181.8,1242.5 1199.8,1242.5" fill="#ff7f0e"/>
<line x1="1191.3" y1="770.0" x2="1191.3" y2="869.0" stroke="#ff7f0e" stroke-width="9.72972972972973"/>
<line x1="1191.5" y1="887.0" x2="1191.5" y2="1397.0" stroke="#ff7f0e" stroke-width="3.6"/>
<line x1="1191.5" y1="1150.8" x2="1191.5" y2="1397.0" stroke="#ff7f0e" stroke-width="8.756756756756756"/>
<line x1="1194.0" y1="869.0" x2="1194.0" y2="960.9" stroke="#ff7f0e" stroke-width="3.6"/>
<polygon points="1194.0,842.0 1185.0,860.5 1203.0,860.5" fill="#ff7f0e"/>
<polygon points="1194.2,1233.0 1185.2,1214.5 1203.2,1214.5" fill="#ff7f0e"/>
<polygon points="1224.8,1235.4 1215.8,1216.9 1233.8,1216.9" fill="#ff7f0e"/>
<line x1="1226.6" y1="1164.4" x2="1226.6" y2="1310.7" stroke="#ff7f0e" stroke-width="3.6"/>
<line x1="1229.8" y1="1178.0" x2="1229.8" y2="1397.0" stroke="#ff7f0e" stroke-width="3.6"/>
<polygon points="1229.8,1232.0 1220.8,1213.5 1238.8,1213.5" fill="#ff7f0e"/>
<line x1="1230.0" y1="770.0" x2="1230.0" y2="862.0" stroke="#ff7f0e" stroke-width="3.6"/>
<polygon points="1230.0,810.0 1221.0,828.5 1239.0,828.5" fill="#ff7f0e"/>
<line x1="1233.0" y1="992.5" x2="1233.0" y2="1291.5" stroke="#ff7f0e" stroke-width="3.6"/>
<polygon points="1233.2,1136.5 1224.2,1155.0 1242.2,1155.0" fill="#ff7f0e"/>
<line x1="1262.4" y1="876.5" x2="1262.4" y2="1185.0" stroke="#ff7f0e" stroke-width="3.6"/>
<polygon points="1262.4,935.5 1253.4,917.0 1271.5,917.0" fill="#ff7f0e"/>
<line x1="1265.6" y1="770.0" x2="1265.6" y2="836.5" stroke="#ff7f0e" stroke-width="3.6"/>
<line x1="1265.6" y1="1065.5" x2="1265.6" y2="1397.0" stroke="#ff7f0e" stroke-width="3.6"/>
<polygon points="1265.6,1284.2 1256.5,1265.7 1274.6,1265.7" fill="#ff7f0e"/>
<line x1="1268.8" y1="872.0" x2="1268.8" y2="1160.0" stroke="#ff7f0e" stroke-width="3.6"/>
<polygon points="1268.8,913.0 1259.8,894.5 1277.8,894.5" fill="#ff7f0e"/>
<line x1="1465.8" y1="1172.8" x2="1465.8" y2="1397.0" stroke="#ff7f0e" stroke-width="3.6"/>
<polygon points="1465.8,1386.0 1456.8,1404.5 1474.8,1404.5" fill="#ff7f0e"/>
<line x1="1466.2" y1="770.0" x2="1466.2" y2="862.6" stroke="#ff7f0e" stroke-width="3.6"/>
<polygon points="1466.2,788.0 1457.2,769.5 1475.2,769.5" fill="#ff7f0e"/>
<line x1="1468.8" y1="861.5" x2="1468.8" y2="1162.6" stroke="#ff7f0e" stroke-width="3.6"/>
<polygon points="1468.8,919.4 1459.8,900.9 1477.8,900.9" fill="#ff7f0e"/>
<line x1="1498.0" y1="931.6" x2="1498.0" y2="1157.0" stroke="#ff7f0e" stroke-width="3.6"/>
<polygon points="1498.0,1007.0 1489.0,988.5 1507.0,988.5" fill="#ff7f0e"/>
<line x1="1550.0" y1="850.8" x2="1550.0" y2="970.0" stroke="#1f77b4" stroke-width="3.6"/>
<polygon points="1550.0,861.2 1541.0,879.7 1559.0,879.7" fill="#1f77b4"/>
<line x1="1551.5" y1="970.0" x2="1551.5" y2="1178.0" stroke="#1f77b4" stroke-width="5.837837837837838"/>
<line x1="1553.2" y1="1178.0" x2="1553.2" y2="1323.2" stroke="#1f77b4" stroke-width="3.6"/>
<polygon points="1553.2,1218.2 1544.2,1236.7 1562.2,1236.7" fill="#1f77b4"/>
<line x1="1575.9" y1="1176.4" x2="1575.9" y2="1397.0" stroke="#ff7f0e" stroke-width="3.6"/>
<polygon points="1575.9,1404.4 1566.9,1385.9 1585.0,1385.9" fill="#ff7f0e"/>
<line x1="1576.3" y1="770.0" x2="1576.3" y2="860.4" stroke="#ff7f0e" stroke-width="3.6"/>
<polygon points="1576.3,784.8 1567.2,766.3 1585.3,766.3" fill="#ff7f0e"/>
<line x1="1579.0" y1="828.0" x2="1579.0" y2="1135.0" stroke="#ff7f0e" stroke-width="3.6"/>
<polygon points="1579.0,906.6 1570.0,888.1 1588.0,888.1" fill="#ff7f0e"/>
<polygon points="1579.0,766.0 1570.0,784.5 1588.0,784.5" fill="#1f77b4"/>
<line x1="1581.5" y1="1203.0" x2="1581.5" y2="1397.0" stroke="#1f77b4" stroke-width="5.351351351351351"/>
<line x1="1582.2" y1="1176.4" x2="1582.2" y2="1397.0" stroke="#1f77b4" stroke-width="3.6"/>
<polygon points="1582.3,828.0 1573.2,846.5 1591.3,846.5" fill="#1f77b4"/>
<line x1="1583.0" y1="770.0" x2="1583.0" y2="856.0" stroke="#1f77b4" stroke-width="7.783783783783783"/>
<line x1="1584.5" y1="1310.0" x2="1584.5" y2="1397.0" stroke="#1f77b4" stroke-width="5.837837837837838"/>
<line x1="1585.5" y1="770.0" x2="1585.5" y2="983.3" stroke="#1f77b4" stroke-width="3.6"/>
<polygon points="1585.5,909.3 1576.5,927.8 1594.5,927.8" fill="#1f77b4"/>
<line x1="1598.3" y1="770.0" x2="1598.3" y2="849.7" stroke="#1f77b4" stroke-width="3.6"/>
<line x1="1598.5" y1="1350.0" x2="1598.5" y2="1397.0" stroke="#1f77b4" stroke-width="3.6"/>
<polygon points="1598.5,1323.7 1589.5,1342.2 1607.5,1342.2" fill="#1f77b4"/>
<line x1="1601.4" y1="1224.5" x2="1601.4" y2="1350.4" stroke="#1f77b4" stroke-width="7.783783783783783"/>
<polygon points="1601.5,1201.0 1592.5,1219.5 1610.5,1219.5" fill="#1f77b4"/>
<line x1="1604.7" y1="1005.3" x2="1604.7" y2="1360.2" stroke="#1f77b4" stroke-width="3.6"/>
<polygon points="1604.9,1184.0 1595.9,1202.5 1614.0,1202.5" fill="#1f77b4"/>
<line x1="1650.0" y1="770.0" x2="1650.0" y2="834.4" stroke="#1f77b4" stroke-width="3.6"/>
<line x1="1650.0" y1="1176.0" x2="1650.0" y2="1397.0" stroke="#1f77b4" stroke-width="3.6"/>
<polygon points="1650.0,1167.0 1641.0,1185.5 1659.0,1185.5" fill="#1f77b4"/>
<polygon points="1650.0,1294.4 1641.0,1275.9 1659.0,1275.9" fill="#1f77b4"/>
<line x1="1651.5" y1="1026.0" x2="1651.5" y2="1173.5" stroke="#1f77b4" stroke-width="5.837837837837838"/>
<line x1="1653.4" y1="858.3" x2="1653.4" y2="1176.0" stroke="#1f77b4" stroke-width="3.6"/>
<polygon points="1653.4,969.2 1644.4,987.7 1662.5,987.7" fill="#1f77b4"/>
<line x1="1658.7" y1="1281.0" x2="1658.7" y2="1334.6" stroke="#1f77b4" stroke-width="3.6"/>
<polygon points="1658.7,1302.0 1649.7,1320.5 1667.8,1320.5" fill="#1f77b4"/>
<polygon points="1672.4,873.5 1663.4,855.0 1681.5,855.0" fill="#ff7f0e"/>
<line x1="1672.9" y1="770.0" x2="1672.9" y2="1005.7" stroke="#ff7f0e" stroke-width="3.6"/>
<polygon points="1675.6,853.2 1666.5,834.7 1684.6,834.7" fill="#ff7f0e"/>
<line x1="1675.6" y1="986.5" x2="1675.6" y2="1116.3" stroke="#ff7f0e" stroke-width="3.6"/>
<polygon points="1675.6,1018.3 1666.5,1036.8 1684.6,1036.8" fill="#ff7f0e"/>
<line x1="1675.7" y1="770.0" x2="1675.7" y2="886.0" stroke="#ff7f0e" stroke-width="8.756756756756756"/>
<line x1="1677.0" y1="1340.0" x2="1677.0" y2="1397.0" stroke="#ff7f0e" stroke-width="9.72972972972973"/>
<polygon points="1679.0,1278.5 1670.0,1260.0 1688.0,1260.0" fill="#ff7f0e"/>
<line x1="1680.0" y1="1178.0" x2="1680.0" y2="1397.0" stroke="#ff7f0e" stroke-width="5.837837837837838"/>
<polygon points="1682.0,1246.7 1673.0,1228.2 1691.0,1228.2" fill="#ff7f0e"/>
<line x1="1682.5" y1="823.0" x2="1682.5" y2="866.4" stroke="#1f77b4" stroke-width="3.6"/>
<polygon points="1683.6,1184.0 1674.5,1202.5 1692.6,1202.5" fill="#1f77b4"/>
<polygon points="1683.8,1286.4 1674.8,1267.9 1692.8,1267.9" fill="#1f77b4"/>
<line x1="1684.2" y1="770.0" x2="1684.2" y2="823.0" stroke="#1f77b4" stroke-width="3.6"/>
<line x1="1685.6" y1="1069.0" x2="1685.6" y2="1397.0" stroke="#1f77b4" stroke-width="3.6"/>
<polygon points="1685.6,1200.0 1676.5,1218.5 1694.6,1218.5" fill="#1f77b4"/>
<polygon points="1685.6,1233.0 1676.5,1214.5 1694.6,1214.5" fill="#1f77b4"/>
<line x1="1701.5" y1="1300.0" x2="1701.5" y2="1397.0" stroke="#1f77b4" stroke-width="3.6"/>
<polygon points="1701.5,1275.0 1692.5,1293.5 1710.5,1293.5" fill="#1f77b4"/>
<line x1="1702.0" y1="770.0" x2="1702.0" y2="888.2" stroke="#1f77b4" stroke-width="3.6"/>
<polygon points="1702.0,1212.7 1693.0,1194.2 1711.0,1194.2" fill="#1f77b4"/>
<line x1="1704.5" y1="1205.0" x2="1704.5" y2="1300.5" stroke="#1f77b4" stroke-width="8.756756756756756"/>
<polygon points="1707.6,1228.6 1698.5,1210.1 1716.6,1210.1" fill="#1f77b4"/>
<polygon points="1727.6,977.0 1718.5,958.5 1736.6,958.5" fill="#ff7f0e"/>
<line x1="1728.7" y1="1060.0" x2="1728.7" y2="1110.0" stroke="#ff7f0e" stroke-width="3.6"/>
<line x1="1730.0" y1="770.0" x2="1730.0" y2="1108.0" stroke="#ff7f0e" stroke-width="6.8108108108108105"/>
<line x1="1730.8" y1="1370.9" x2="1730.8" y2="1397.0" stroke="#ff7f0e" stroke-width="3.6"/>
<polygon points="1731.0,943.0 1722.0,924.5 1740.0,924.5" fill="#ff7f0e"/>
<line x1="1731.5" y1="1110.0" x2="1731.5" y2="1132.6" stroke="#ff7f0e" stroke-width="3.6"/>
<line x1="1733.7" y1="1132.6" x2="1733.7" y2="1325.5" stroke="#ff7f0e" stroke-width="3.6"/>
<polygon points="1733.7,1268.3 1724.7,1249.8 1742.8,1249.8" fill="#ff7f0e"/>
<polygon points="1756.5,925.4 1747.5,943.9 1765.5,943.9" fill="#1f77b4"/>
<line x1="1756.5" y1="997.0" x2="1756.5" y2="1023.0" stroke="#1f77b4" stroke-width="3.6"/>
<polygon points="1757.0,956.3 1748.0,974.8 1766.0,974.8" fill="#ff7f0e"/>
<polygon points="1757.6,1240.0 1748.5,1221.5 1766.6,1221.5" fill="#1f77b4"/>
<line x1="1758.2" y1="770.0" x2="1758.2" y2="1016.4" stroke="#ff7f0e" stroke-width="4.864864864864865"/>
<polygon points="1759.0,1295.5 1750.0,1277.0 1768.0,1277.0" fill="#ff7f0e"/>
<polygon points="1759.8,1257.0 1750.8,1238.5 1768.8,1238.5" fill="#1f77b4"/>
<polygon points="1759.8,1358.9 1750.8,1377.4 1768.8,1377.4" fill="#1f77b4"/>
<line x1="1760.0" y1="770.0" x2="1760.0" y2="830.0" stroke="#ff7f0e" stroke-width="8.756756756756756"/>
<polygon points="1760.0,818.0 1751.0,799.5 1769.0,799.5" fill="#ff7f0e"/>
<line x1="1760.0" y1="1243.0" x2="1760.0" y2="1397.0" stroke="#ff7f0e" stroke-width="9.72972972972973"/>
<line x1="1760.0" y1="1200.7" x2="1760.0" y2="1260.0" stroke="#1f77b4" stroke-width="6.8108108108108105"/>
<polygon points="1761.4,970.2 1752.4,988.7 1770.5,988.7" fill="#ff7f0e"/>
<polygon points="1762.0,1277.2 1753.0,1295.7 1771.0,1295.7" fill="#1f77b4"/>
<line x1="1765.0" y1="901.0" x2="1765.0" y2="1132.6" stroke="#ff7f0e" stroke-width="5.837837837837838"/>
<line x1="1766.6" y1="1060.0" x2="1766.6" y2="1132.6" stroke="#ff7f0e" stroke-width="3.6"/>
<polygon points="1766.7,932.8 1757.7,951.3 1775.8,951.3" fill="#ff7f0e"/>
<line x1="1772.0" y1="770.0" x2="1772.0" y2="798.5" stroke="#1f77b4" stroke-width="3.6"/>
<line x1="1773.4" y1="1264.2" x2="1773.4" y2="1397.0" stroke="#1f77b4" stroke-width="3.6"/>
<polygon points="1774.6,1220.0 1765.5,1238.5 1783.6,1238.5" fill="#1f77b4"/>
<polygon points="1774.6,1250.0 1765.5,1231.5 1783.6,1231.5" fill="#1f77b4"/>
<polygon points="1777.0,1406.0 1768.0,1387.5 1786.0,1387.5" fill="#ff7f0e"/>
<line x1="1777.0" y1="1218.0" x2="1777.0" y2="1290.0" stroke="#1f77b4" stroke-width="9.72972972972973"/>
<polygon points="1778.4,1244.8 1769.4,1263.3 1787.5,1263.3" fill="#1f77b4"/>
<polygon points="1778.4,1268.8 1769.4,1250.3 1787.5,1250.3" fill="#1f77b4"/>
<line x1="1779.0" y1="770.0" x2="1779.0" y2="852.0" stroke="#ff7f0e" stroke-width="11.675675675675675"/>
<line x1="1779.2" y1="1296.0" x2="1779.2" y2="1397.0" stroke="#ff7f0e" stroke-width="9.72972972972973"/>
<line x1="1779.6" y1="852.0" x2="1779.6" y2="1005.7" stroke="#ff7f0e" stroke-width="3.6"/>
<polygon points="1779.6,963.8 1770.5,982.3 1788.6,982.3" fill="#ff7f0e"/>
<polygon points="1780.2,1247.7 1771.2,1266.2 1789.2,1266.2" fill="#1f77b4"/>
<line x1="1781.6" y1="852.0" x2="1781.6" y2="899.0" stroke="#ff7f0e" stroke-width="4.864864864864865"/>
<polygon points="1782.5,1304.6 1773.5,1286.1 1791.5,1286.1" fill="#1f77b4"/>
<polygon points="1782.5,1302.0 1773.5,1283.5 1791.5,1283.5" fill="#1f77b4"/>
<polygon points="1785.0,1248.0 1776.0,1266.5 1794.0,1266.5" fill="#1f77b4"/>
<polygon points="1785.0,1272.0 1776.0,1253.5 1794.0,1253.5" fill="#1f77b4"/>
<line x1="1786.0" y1="927.7" x2="1786.0" y2="973.7" stroke="#ff7f0e" stroke-width="3.6"/>
<polygon points="1786.0,939.2 1777.0,957.7 1795.0,957.7" fill="#ff7f0e"/>
<line x1="1788.0" y1="1316.0" x2="1788.0" y2="1397.0" stroke="#ff7f0e" stroke-width="4.378378378378378"/>
<line x1="1788.8" y1="770.0" x2="1788.8" y2="885.0" stroke="#ff7f0e" stroke-width="3.6"/>
<line x1="1788.9" y1="1188.2" x2="1788.9" y2="1397.0" stroke="#ff7f0e" stroke-width="3.6"/>
<polygon points="1789.3,1403.0 1780.2,1384.5 1798.3,1384.5" fill="#ff7f0e"/>
<polygon points="1806.3,1299.9 1797.2,1318.4 1815.3,1318.4" fill="#1f77b4"/>
<polygon points="1806.3,1323.9 1797.2,1305.4 1815.3,1305.4" fill="#1f77b4"/>
<line x1="1807.5" y1="1273.3" x2="1807.5" y2="1355.0" stroke="#1f77b4" stroke-width="3.6"/>
<line x1="1808.0" y1="1273.0" x2="1808.0" y2="1355.0" stroke="#1f77b4" stroke-width="6.8108108108108105"/>
<line x1="1808.6" y1="1200.7" x2="1808.6" y2="1222.2" stroke="#ff7f0e" stroke-width="3.6"/>
<polygon points="1808.6,1219.5 1799.5,1201.0 1817.6,1201.0" fill="#ff7f0e"/>
<line x1="1811.6" y1="853.0" x2="1811.6" y2="978.0" stroke="#ff7f0e" stroke-width="3.6"/>
<polygon points="1811.6,953.6 1802.5,935.1 1820.6,935.1" fill="#ff7f0e"/>
<line x1="1811.6" y1="909.6" x2="1811.6" y2="919.0" stroke="#1f77b4" stroke-width="3.6"/>
<line x1="1811.6" y1="978.0" x2="1811.6" y2="1355.0" stroke="#1f77b4" stroke-width="3.6"/>
<polygon points="1813.0,1322.6 1804.0,1341.1 1822.0,1341.1" fill="#ff7f0e"/>
<line x1="1813.5" y1="770.0" x2="1813.5" y2="853.0" stroke="#ff7f0e" stroke-width="5.837837837837838"/>
<line x1="1815.0" y1="1232.5" x2="1815.0" y2="1397.0" stroke="#ff7f0e" stroke-width="3.6"/>
<polygon points="1815.0,1344.0 1806.0,1362.5 1824.0,1362.5" fill="#ff7f0e"/>
<polygon points="1815.0,1403.0 1806.0,1384.5 1824.0,1384.5" fill="#ff7f0e"/>
<polygon points="1815.4,1295.3 1806.4,1313.8 1824.5,1313.8" fill="#1f77b4"/>
<polygon points="1815.4,1319.3 1806.4,1300.8 1824.5,1300.8" fill="#1f77b4"/>
<line x1="1821.0" y1="1272.2" x2="1821.0" y2="1339.0" stroke="#1f77b4" stroke-width="3.6"/>
<polygon points="1824.5,1304.4 1815.5,1322.9 1833.5,1322.9" fill="#1f77b4"/>
<polygon points="1824.5,1328.4 1815.5,1309.9 1833.5,1309.9" fill="#1f77b4"/>
<line x1="1831.3" y1="1123.5" x2="1831.3" y2="1372.0" stroke="#1f77b4" stroke-width="3.6"/>
<polygon points="1831.3,1315.8 1822.2,1334.3 1840.3,1334.3" fill="#1f77b4"/>
<polygon points="1831.3,1339.8 1822.2,1321.3 1840.3,1321.3" fill="#1f77b4"/>
<polygon points="1833.6,1306.7 1824.5,1325.2 1842.6,1325.2" fill="#1f77b4"/>
<polygon points="1833.6,1330.7 1824.5,1312.2 1842.6,1312.2" fill="#1f77b4"/>
<line x1="1854.0" y1="990.0" x2="1854.0" y2="1150.8" stroke="#1f77b4" stroke-width="3.6"/>
<polygon points="1854.0,1039.0 1845.0,1020.5 1863.0,1020.5" fill="#1f77b4"/>
<line x1="1855.5" y1="870.0" x2="1855.5" y2="990.8" stroke="#1f77b4" stroke-width="6.8108108108108105"/>
<polygon points="1857.0,947.2 1848.0,928.7 1866.0,928.7" fill="#1f77b4"/>
<line x1="1859.7" y1="1256.3" x2="1859.7" y2="1397.0" stroke="#1f77b4" stroke-width="3.6"/>
<line x1="1860.3" y1="770.0" x2="1860.3" y2="871.0" stroke="#1f77b4" stroke-width="3.6"/>
<polygon points="1860.3,820.0 1851.2,801.5 1869.3,801.5" fill="#1f77b4"/>
<line x1="1868.0" y1="770.0" x2="1868.0" y2="815.5" stroke="#ff7f0e" stroke-width="10.702702702702702"/>
<line x1="1869.3" y1="1235.9" x2="1869.3" y2="1397.0" stroke="#ff7f0e" stroke-width="14.594594594594595"/>
<line x1="1872.5" y1="770.0" x2="1872.5" y2="849.7" stroke="#ff7f0e" stroke-width="3.6"/>
<line x1="1873.3" y1="1201.8" x2="1873.3" y2="1240.0" stroke="#ff7f0e" stroke-width="3.6"/>
<line x1="1879.0" y1="1199.5" x2="1879.0" y2="1397.0" stroke="#1f77b4" stroke-width="3.6"/>
<polygon points="1879.0,1259.0 1870.0,1277.5 1888.0,1277.5" fill="#1f77b4"/>
<polygon points="1879.0,1274.0 1870.0,1255.5 1888.0,1255.5" fill="#1f77b4"/>
<line x1="1879.6" y1="770.0" x2="1879.6" y2="918.5" stroke="#1f77b4" stroke-width="3.6"/>
<line x1="1882.4" y1="1199.5" x2="1882.4" y2="1300.0" stroke="#ff7f0e" stroke-width="3.6"/>
<polygon points="1882.4,1322.0 1873.4,1340.5 1891.5,1340.5" fill="#1f77b4"/>
<polygon points="1882.4,1338.0 1873.4,1319.5 1891.5,1319.5" fill="#1f77b4"/>
<polygon points="1883.2,787.5 1874.2,806.0 1892.2,806.0" fill="#ff7f0e"/>
<line x1="1885.5" y1="770.0" x2="1885.5" y2="852.0" stroke="#ff7f0e" stroke-width="9.72972972972973"/>
<polygon points="1885.8,1262.6 1876.8,1244.1 1894.8,1244.1" fill="#ff7f0e"/>
<polygon points="1887.0,1268.0 1878.0,1286.5 1896.0,1286.5" fill="#1f77b4"/>
<line x1="1888.6" y1="1287.0" x2="1888.6" y2="1397.0" stroke="#ff7f0e" stroke-width="11.675675675675675"/>
<polygon points="1889.2,828.6 1880.2,810.1 1898.2,810.1" fill="#ff7f0e"/>
<polygon points="1897.0,1306.7 1888.0,1325.2 1906.0,1325.2" fill="#1f77b4"/>
<line x1="1897.7" y1="1211.0" x2="1897.7" y2="1341.4" stroke="#1f77b4" stroke-width="6.8108108108108105"/>
<polygon points="1900.5,1240.9 1891.5,1259.4 1909.5,1259.4" fill="#1f77b4"/>
<line x1="1902.4" y1="862.0" x2="1902.4" y2="1397.0" stroke="#ff7f0e" stroke-width="3.6"/>
<polygon points="1902.4,1075.4 1893.4,1056.9 1911.5,1056.9" fill="#ff7f0e"/>
<polygon points="1902.4,980.3 1893.4,961.8 1911.5,961.8" fill="#1f77b4"/>
<line x1="1902.8" y1="1040.0" x2="1902.8" y2="1144.0" stroke="#ff7f0e" stroke-width="3.6"/>
<polygon points="1902.8,1076.5 1893.8,1058.0 1911.8,1058.0" fill="#ff7f0e"/>
<polygon points="1904.6,819.0 1895.5,800.5 1913.6,800.5" fill="#ff7f0e"/>
<polygon points="1904.6,803.5 1895.5,822.0 1913.6,822.0" fill="#ff7f0e"/>
<line x1="1905.2" y1="913.8" x2="1905.2" y2="1397.0" stroke="#ff7f0e" stroke-width="3.6"/>
<polygon points="1905.2,1036.5 1896.2,1055.0 1914.2,1055.0" fill="#ff7f0e"/>
<line x1="1905.5" y1="770.0" x2="1905.5" y2="862.6" stroke="#ff7f0e" stroke-width="8.756756756756756"/>
<line x1="1907.8" y1="1234.7" x2="1907.8" y2="1397.0" stroke="#ff7f0e" stroke-width="13.621621621621621"/>
<line x1="1908.5" y1="1224.5" x2="1908.5" y2="1240.0" stroke="#ff7f0e" stroke-width="3.6"/>
<line x1="1915.2" y1="968.3" x2="1915.2" y2="1072.0" stroke="#1f77b4" stroke-width="3.6"/>
<polygon points="1915.2,1016.2 1906.2,1034.7 1924.2,1034.7" fill="#1f77b4"/>
<polygon points="1915.3,1232.0 1906.2,1213.5 1924.3,1213.5" fill="#1f77b4"/>
<line x1="1917.5" y1="1203.0" x2="1917.5" y2="1310.0" stroke="#1f77b4" stroke-width="7.783783783783783"/>
<line x1="1918.0" y1="770.0" x2="1918.0" y2="845.5" stroke="#1f77b4" stroke-width="3.6"/>
<polygon points="1918.7,1329.4 1909.7,1347.9 1927.8,1347.9" fill="#1f77b4"/>
<polygon points="1918.7,1378.3 1909.7,1359.8 1927.8,1359.8" fill="#1f77b4"/>
<line x1="1918.7" y1="1310.0" x2="1918.7" y2="1397.0" stroke="#1f77b4" stroke-width="3.6"/>
<polygon points="1921.0,1270.4 1912.0,1288.9 1930.0,1288.9" fill="#1f77b4"/>
<polygon points="1921.4,1157.0 1912.4,1138.5 1930.5,1138.5" fill="#1f77b4"/>
<line x1="1921.7" y1="770.0" x2="1921.7" y2="843.3" stroke="#ff7f0e" stroke-width="3.6"/>
<polygon points="1921.7,798.7 1912.7,780.2 1930.8,780.2" fill="#ff7f0e"/>
<line x1="1921.7" y1="1071.0" x2="1921.7" y2="1179.0" stroke="#1f77b4" stroke-width="3.6"/>
<line x1="1925.5" y1="1271.0" x2="1925.5" y2="1397.0" stroke="#ff7f0e" stroke-width="3.6"/>
<polygon points="1926.6,1346.6 1917.5,1328.1 1935.6,1328.1" fill="#ff7f0e"/>
<line x1="1934.5" y1="1191.6" x2="1934.5" y2="1397.0" stroke="#1f77b4" stroke-width="8.756756756756756"/>
<polygon points="1934.5,1403.0 1925.5,1384.5 1943.5,1384.5" fill="#1f77b4"/>
<polygon points="1934.5,1322.6 1925.5,1341.1 1943.5,1341.1" fill="#1f77b4"/>
<line x1="1935.0" y1="770.0" x2="1935.0" y2="856.0" stroke="#1f77b4" stroke-width="9.72972972972973"/>
<polygon points="1938.0,1336.0 1929.0,1354.5 1947.0,1354.5" fill="#1f77b4"/>
<polygon points="1938.0,1360.0 1929.0,1341.5 1947.0,1341.5" fill="#1f77b4"/>
<polygon points="1938.0,1347.5 1929.0,1366.0 1947.0,1366.0" fill="#1f77b4"/>
<polygon points="1938.0,1371.5 1929.0,1353.0 1947.0,1353.0" fill="#1f77b4"/>
</g>
<rect x="1137" y="770.0" width="838.7" height="625.3499999999999" fill="none" stroke="#000" stroke-width="2.2"/>
<line x1="1209.4" y1="1395.35" x2="1209.4" y2="1403.75" stroke="#000" stroke-width="2.2"/>
<text x="1209.4" y="1433.5" font-size="28.7" text-anchor="middle" font-family='"DejaVu Serif", "Liberation Serif", serif'>7</text>
<line x1="1306.3" y1="1395.35" x2="1306.3" y2="1403.75" stroke="#000" stroke-width="2.2"/>
<text x="1306.3" y="1433.5" font-size="28.7" text-anchor="middle" font-family='"DejaVu Serif", "Liberation Serif", serif'>8</text>
<line x1="1403.2" y1="1395.35" x2="1403.2" y2="1403.75" stroke="#000" stroke-width="2.2"/>
<text x="1403.2" y="1433.5" font-size="28.7" text-anchor="middle" font-family='"DejaVu Serif", "Liberation Serif", serif'>9</text>
<line x1="1500.1" y1="1395.35" x2="1500.1" y2="1403.75" stroke="#000" stroke-width="2.2"/>
<text x="1500.1" y="1433.5" font-size="28.7" text-anchor="middle" font-family='"DejaVu Serif", "Liberation Serif", serif'>10</text>
<line x1="1597.0" y1="1395.35" x2="1597.0" y2="1403.75" stroke="#000" stroke-width="2.2"/>
<text x="1597.0" y="1433.5" font-size="28.7" text-anchor="middle" font-family='"DejaVu Serif", "Liberation Serif", serif'>11</text>
<line x1="1693.9" y1="1395.35" x2="1693.9" y2="1403.75" stroke="#000" stroke-width="2.2"/>
<text x="1693.9" y="1433.5" font-size="28.7" text-anchor="middle" font-family='"DejaVu Serif", "Liberation Serif", serif'>12</text>
<line x1="1790.8" y1="1395.35" x2="1790.8" y2="1403.75" stroke="#000" stroke-width="2.2"/>
<text x="1790.8" y="1433.5" font-size="28.7" text-anchor="middle" font-family='"DejaVu Serif", "Liberation Serif", serif'>13</text>
<line x1="1887.7" y1="1395.35" x2="1887.7" y2="1403.75" stroke="#000" stroke-width="2.2"/>
<text x="1887.7" y="1433.5" font-size="28.7" text-anchor="middle" font-family='"DejaVu Serif", "Liberation Serif", serif'>14</text>
<line x1="1128.6" y1="1381.3" x2="1137" y2="1381.3" stroke="#000" stroke-width="2.2"/>
<text x="1121.2" y="1391.8" font-size="28.7" text-anchor="end" font-family='"DejaVu Serif", "Liberation Serif", serif'>−3</text>
<line x1="1128.6" y1="1281.8" x2="1137" y2="1281.8" stroke="#000" stroke-width="2.2"/>
<text x="1121.2" y="1292.3" font-size="28.7" text-anchor="end" font-family='"DejaVu Serif", "Liberation Serif", serif'>−2</text>
<line x1="1128.6" y1="1182.3" x2="1137" y2="1182.3" stroke="#000" stroke-width="2.2"/>
<text x="1121.2" y="1192.8" font-size="28.7" text-anchor="end" font-family='"DejaVu Serif", "Liberation Serif", serif'>−1</text>
<line x1="1128.6" y1="1082.8" x2="1137" y2="1082.8" stroke="#000" stroke-width="2.2"/>
<text x="1121.2" y="1093.3" font-size="28.7" text-anchor="end" font-family='"DejaVu Serif", "Liberation Serif", serif'>0</text>
<line x1="1128.6" y1="983.3" x2="1137" y2="983.3" stroke="#000" stroke-width="2.2"/>
<text x="1121.2" y="993.8" font-size="28.7" text-anchor="end" font-family='"DejaVu Serif", "Liberation Serif", serif'>1</text>
<line x1="1128.6" y1="883.8" x2="1137" y2="883.8" stroke="#000" stroke-width="2.2"/>
<text x="1121.2" y="894.3" font-size="28.7" text-anchor="end" font-family='"DejaVu Serif", "Liberation Serif", serif'>2</text>
<line x1="1128.6" y1="784.3" x2="1137" y2="784.3" stroke="#000" stroke-width="2.2"/>
<text x="1121.2" y="794.7" font-size="28.7" text-anchor="end" font-family='"DejaVu Serif", "Liberation Serif", serif'>3</text>
<text x="1556.3" y="1489.5" font-size="54.2" text-anchor="middle" font-family='"DejaVu Serif", "Liberation Serif", serif'>UT (h)</text>
<text transform="translate(1054.2,1082.7) rotate(-90)" font-size="55.5" text-anchor="middle" font-family='"DejaVu Sans", "Liberation Sans", sans-serif'>∠<tspan font-style="oblique" dx="1.5">β</tspan><tspan font-size="29.5" dy="9" dx="-4" font-family='"DejaVu Math TeX Gyre", "DejaVu Serif", serif'>𝒱</tspan><tspan font-size="38.8" dx="-3.2">,</tspan><tspan font-size="38.8" dx="8.5">1</tspan><tspan dy="-9" font-size="54.2" letter-spacing="0.8" font-family='"DejaVu Serif", "Liberation Serif", serif'>, RR/LL</tspan></text>
</svg>
</body></html>
